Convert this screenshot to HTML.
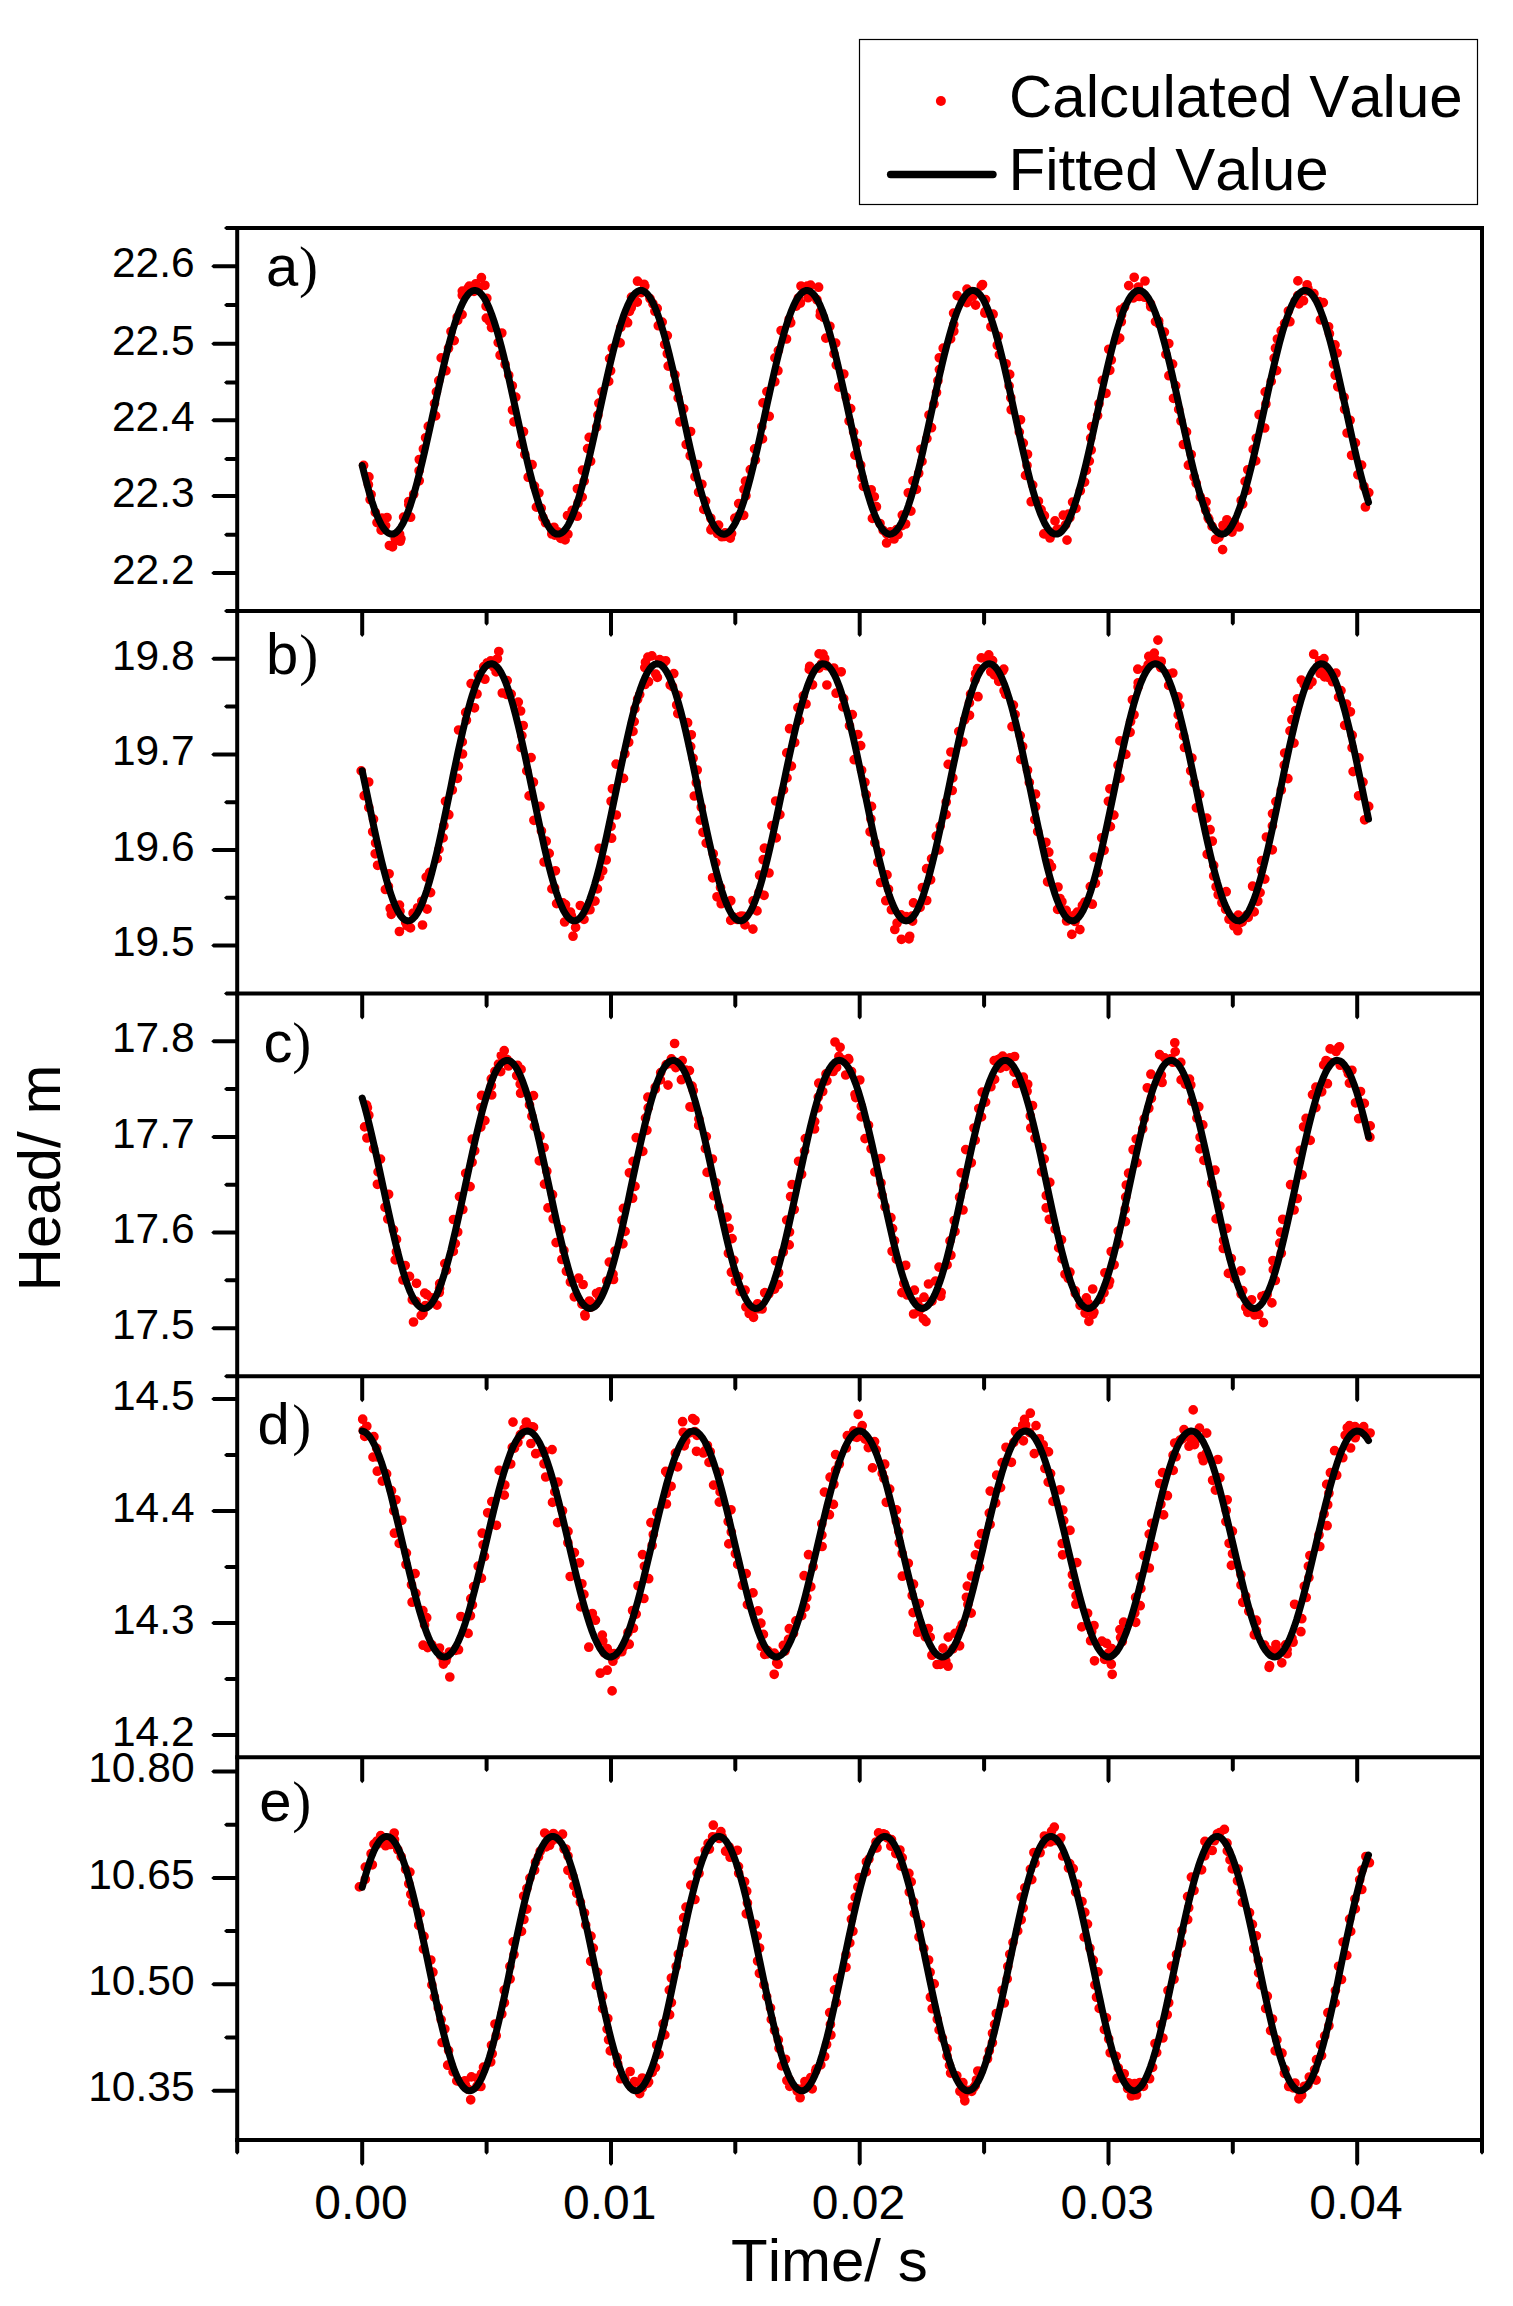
<!DOCTYPE html>
<html lang="en"><head><meta charset="utf-8"><title>Head vs Time - Calculated and Fitted Values</title>
<style>
html,body{margin:0;padding:0;background:#fff;}
body{width:1513px;height:2306px;overflow:hidden;}
svg{display:block;}
text{font-family:"Liberation Sans",Arial,Helvetica,sans-serif;fill:#000;font-kerning:none;}
.yt{font-size:42.5px;text-anchor:end;}
.xt{font-size:48px;text-anchor:middle;}
.ttl{font-size:60px;}
.pl{font-size:58px;}
.pp{font-size:57px;}
.ser{font-family:"Liberation Serif","Times New Roman",serif;}
.ax{stroke:#000;stroke-width:4;fill:none;stroke-linecap:butt;}
.tk{fill:#000;stroke:none;}
.dots{stroke:#f00;stroke-width:9.7;stroke-linecap:round;fill:none;}
.fit{stroke:#000;stroke-width:7;stroke-linecap:round;stroke-linejoin:round;fill:none;}
</style></head><body>
<svg width="1513" height="2306" viewBox="0 0 1513 2306">
<rect x="0" y="0" width="1513" height="2306" fill="#fff"/>
<path class="dots" d="M363.6 465.4h0M368.9 476.9h0M368.4 484.7h0M371.1 494.5h0M370.1 499.6h0M375.3 512.4h0M377.0 522.6h0M381.9 518.0h0M381.1 530.1h0M385.6 525.6h0M387.0 517.5h0M389.4 545.5h0M392.5 546.9h0M395.2 538.6h0M400.2 541.2h0M400.9 538.8h0M399.6 534.2h0M403.6 517.1h0M410.6 517.2h0M408.8 504.6h0M408.8 501.5h0M413.7 494.3h0M419.2 480.8h0M419.1 470.8h0M419.3 459.5h0M423.4 449.0h0M425.6 437.8h0M428.3 426.4h0M435.6 415.9h0M434.5 403.5h0M436.4 391.9h0M438.8 380.7h0M445.9 370.7h0M441.2 357.9h0M448.5 348.2h0M454.2 340.6h0M451.0 331.5h0M457.7 320.4h0M457.2 317.3h0M462.1 314.6h0M462.3 291.1h0M462.3 295.3h0M469.3 286.1h0M468.2 288.0h0M474.0 291.3h0M475.8 283.8h0M478.1 289.8h0M481.4 277.7h0M484.9 285.3h0M486.8 298.3h0M486.1 306.3h0M486.3 318.1h0M489.4 321.0h0M491.5 327.6h0M501.8 333.0h0M498.2 342.6h0M500.1 355.2h0M505.1 364.5h0M508.7 375.3h0M512.3 385.8h0M515.8 397.1h0M512.5 410.0h0M514.0 421.8h0M523.5 431.7h0M520.8 444.2h0M524.8 454.5h0M532.1 464.7h0M528.2 477.2h0M534.5 486.1h0M538.9 493.0h0M536.4 507.1h0M541.2 508.3h0M542.9 517.5h0M545.5 522.7h0M551.8 534.0h0M551.8 530.1h0M554.0 527.3h0M554.7 535.1h0M558.0 531.9h0M560.7 538.4h0M565.1 539.9h0M567.9 534.3h0M572.2 510.4h0M567.5 515.5h0M577.3 516.2h0M578.0 503.0h0M582.2 497.1h0M577.4 488.8h0M584.2 481.1h0M582.5 470.2h0M590.6 461.2h0M587.6 448.6h0M589.2 437.4h0M596.7 427.0h0M597.9 415.2h0M598.9 403.2h0M602.0 391.8h0M608.7 381.4h0M610.6 370.8h0M609.6 358.6h0M612.3 348.3h0M620.1 342.9h0M620.7 327.4h0M625.5 320.4h0M627.6 322.7h0M629.5 311.3h0M631.2 307.8h0M634.0 297.1h0M631.5 297.1h0M637.3 302.1h0M637.5 281.2h0M641.4 292.6h0M644.8 286.0h0M644.1 284.3h0M650.0 298.6h0M654.9 311.2h0M652.9 303.7h0M657.2 308.4h0M662.2 322.1h0M658.3 325.7h0M667.3 335.6h0M664.7 344.5h0M667.3 353.7h0M668.2 366.1h0M674.9 374.8h0M674.0 386.9h0M678.2 397.9h0M683.7 408.8h0M679.9 421.8h0M690.6 431.5h0M686.2 444.5h0M690.2 455.7h0M697.5 464.5h0M695.0 476.7h0M701.9 484.3h0M698.6 492.2h0M705.6 501.1h0M703.8 509.4h0M710.8 518.3h0M710.9 529.8h0M712.5 527.2h0M718.6 525.1h0M717.5 533.5h0M721.8 536.7h0M724.9 536.3h0M725.1 532.9h0M730.3 538.1h0M731.6 533.6h0M734.8 518.2h0M738.3 516.3h0M743.7 515.3h0M738.7 503.6h0M745.9 495.8h0M744.0 489.4h0M745.5 481.2h0M750.3 469.7h0M755.4 460.0h0M754.6 448.9h0M762.5 438.9h0M761.8 426.8h0M769.2 416.3h0M763.0 402.9h0M766.9 391.6h0M774.8 381.7h0M777.9 370.7h0M774.9 357.9h0M778.4 350.6h0M786.5 339.0h0M781.1 330.5h0M790.7 322.8h0M789.2 319.3h0M796.2 306.1h0M798.0 303.6h0M800.4 303.1h0M798.4 298.0h0M801.0 286.0h0M805.9 291.2h0M807.2 286.1h0M808.1 297.7h0M810.6 285.2h0M816.9 299.7h0M818.6 287.2h0M820.5 311.8h0M820.2 315.4h0M823.4 317.2h0M829.9 326.3h0M825.8 338.1h0M835.7 343.1h0M834.0 353.9h0M836.3 365.1h0M843.8 374.0h0M838.8 387.1h0M846.3 397.4h0M850.7 408.6h0M849.1 421.0h0M853.6 432.1h0M857.3 443.4h0M854.9 455.1h0M860.7 465.2h0M862.0 477.8h0M863.4 486.3h0M871.2 489.8h0M874.3 496.8h0M876.4 506.7h0M872.4 518.4h0M880.0 523.5h0M883.2 530.4h0M886.1 532.6h0M886.7 533.9h0M886.6 543.0h0M890.4 531.8h0M894.1 539.0h0M898.1 534.5h0M896.7 529.5h0M902.1 525.6h0M905.6 524.0h0M902.3 515.1h0M910.9 511.1h0M908.3 492.8h0M916.4 489.4h0M913.0 480.9h0M918.7 473.2h0M922.0 461.4h0M920.9 449.3h0M926.9 438.6h0M931.5 427.7h0M929.0 415.0h0M934.0 404.0h0M936.5 392.5h0M937.9 380.7h0M939.4 369.6h0M939.3 357.8h0M943.2 348.2h0M950.6 338.9h0M953.8 331.2h0M953.8 324.6h0M953.6 313.1h0M962.4 300.2h0M957.2 295.6h0M966.9 302.6h0M969.0 298.1h0M967.0 289.1h0M972.4 291.5h0M973.2 296.0h0M975.6 305.1h0M981.3 285.9h0M982.5 284.5h0M985.6 299.6h0M985.2 311.7h0M984.8 313.1h0M993.1 314.2h0M990.9 326.8h0M998.2 336.3h0M997.3 345.2h0M999.4 354.8h0M1006.1 363.8h0M1009.7 374.4h0M1009.1 386.0h0M1010.8 397.7h0M1011.2 409.7h0M1020.5 419.8h0M1019.3 432.1h0M1023.3 443.1h0M1027.5 454.3h0M1027.0 465.5h0M1025.5 475.4h0M1032.7 485.1h0M1031.2 501.7h0M1038.4 501.3h0M1041.1 509.6h0M1043.9 515.2h0M1044.4 515.7h0M1043.8 533.9h0M1050.0 538.0h0M1050.8 533.3h0M1055.0 520.9h0M1056.9 529.8h0M1058.6 529.4h0M1063.3 515.2h0M1067.0 540.1h0M1065.5 524.9h0M1069.9 517.6h0M1068.5 514.2h0M1076.0 508.3h0M1072.6 502.1h0M1080.3 490.8h0M1084.6 482.1h0M1086.4 470.3h0M1089.3 461.1h0M1091.2 450.0h0M1090.7 438.2h0M1091.7 426.5h0M1097.6 415.6h0M1099.0 403.8h0M1106.0 393.3h0M1102.3 380.4h0M1109.8 370.3h0M1111.3 360.0h0M1108.8 349.3h0M1117.2 340.0h0M1119.7 338.1h0M1121.3 321.7h0M1121.5 315.1h0M1120.5 309.9h0M1124.5 307.1h0M1133.2 298.0h0M1128.7 285.6h0M1134.2 277.3h0M1138.3 287.0h0M1139.3 296.5h0M1141.5 295.1h0M1145.0 281.0h0M1144.6 297.2h0M1150.5 303.6h0M1150.7 306.8h0M1155.5 321.6h0M1158.7 321.0h0M1158.6 323.6h0M1164.4 332.1h0M1168.8 343.5h0M1165.9 354.4h0M1172.6 364.1h0M1168.9 375.7h0M1175.7 385.7h0M1173.5 398.3h0M1178.7 409.4h0M1181.0 421.0h0M1186.5 431.9h0M1183.4 444.5h0M1191.2 454.5h0M1188.4 465.2h0M1194.1 477.0h0M1196.2 483.3h0M1200.3 497.0h0M1206.1 501.9h0M1205.7 510.2h0M1208.8 519.1h0M1208.2 517.9h0M1212.1 526.4h0M1215.6 539.3h0M1219.0 537.3h0M1219.4 533.2h0M1222.6 549.6h0M1223.0 525.3h0M1226.9 519.8h0M1227.2 526.0h0M1232.0 532.1h0M1239.1 527.0h0M1234.4 522.2h0M1242.7 504.1h0M1241.2 500.4h0M1247.4 490.3h0M1245.1 481.4h0M1247.8 469.8h0M1255.7 460.9h0M1253.2 449.4h0M1256.3 438.3h0M1264.7 428.0h0M1259.1 414.7h0M1265.9 404.0h0M1265.2 391.9h0M1271.2 381.4h0M1276.6 370.6h0M1274.2 358.2h0M1275.5 348.2h0M1277.4 339.0h0M1281.2 330.7h0M1284.6 323.4h0M1289.9 321.7h0M1288.4 311.0h0M1295.2 301.0h0M1299.0 303.9h0M1297.8 295.7h0M1297.9 280.9h0M1303.5 300.7h0M1306.0 290.8h0M1307.1 284.8h0M1307.9 288.4h0M1313.9 293.7h0M1319.1 301.7h0M1320.2 304.0h0M1323.3 302.6h0M1320.4 319.8h0M1328.6 326.8h0M1329.4 333.8h0M1335.0 344.9h0M1337.1 353.0h0M1333.5 364.0h0M1335.2 375.2h0M1337.8 386.8h0M1344.1 397.3h0M1344.6 409.3h0M1350.1 420.3h0M1347.1 433.0h0M1355.4 442.9h0M1351.6 455.3h0M1361.6 465.1h0M1357.9 474.8h0M1364.0 486.5h0M1368.8 492.6h0M1365.4 507.0h0"/>
<polyline class="fit" points="362.2,465.5 364.6,475.2 367.0,484.4 369.4,493.0 371.8,501.0 374.2,508.2 376.6,514.6 379.0,520.2 381.4,524.9 383.8,528.6 386.2,531.5 388.6,533.3 391.0,534.1 393.3,534.0 395.7,532.8 398.1,530.7 400.5,527.6 402.9,523.5 405.3,518.5 407.7,512.7 410.1,506.0 412.5,498.5 414.9,490.4 417.3,481.6 419.7,472.2 422.1,462.4 424.5,452.1 426.9,441.5 429.3,430.7 431.7,419.7 434.1,408.7 436.5,397.6 438.9,386.7 441.3,376.1 443.7,365.7 446.1,355.7 448.5,346.1 450.9,337.1 453.2,328.7 455.6,321.1 458.0,314.1 460.4,308.0 462.8,302.7 465.2,298.3 467.6,294.9 470.0,292.4 472.4,290.9 474.8,290.4 477.2,290.9 479.6,292.4 482.0,294.9 484.4,298.3 486.8,302.7 489.2,308.0 491.6,314.2 494.0,321.1 496.4,328.8 498.8,337.2 501.2,346.2 503.6,355.7 506.0,365.7 508.4,376.1 510.7,386.8 513.1,397.7 515.5,408.7 517.9,419.8 520.3,430.8 522.7,441.6 525.1,452.2 527.5,462.5 529.9,472.3 532.3,481.7 534.7,490.5 537.1,498.6 539.5,506.1 541.9,512.7 544.3,518.6 546.7,523.5 549.1,527.6 551.5,530.7 553.9,532.8 556.3,534.0 558.7,534.1 561.1,533.3 563.5,531.4 565.9,528.6 568.3,524.8 570.6,520.1 573.0,514.5 575.4,508.1 577.8,500.9 580.2,492.9 582.6,484.3 585.0,475.1 587.4,465.4 589.8,455.3 592.2,444.8 594.6,434.0 597.0,423.1 599.4,412.0 601.8,401.0 604.2,390.0 606.6,379.3 609.0,368.8 611.4,358.7 613.8,349.0 616.2,339.8 618.6,331.2 621.0,323.3 623.4,316.1 625.8,309.8 628.2,304.2 630.5,299.5 632.9,295.8 635.3,293.0 637.7,291.2 640.1,290.4 642.5,290.6 644.9,291.8 647.3,294.0 649.7,297.2 652.1,301.3 654.5,306.3 656.9,312.2 659.3,318.9 661.7,326.4 664.1,334.6 666.5,343.4 668.9,352.8 671.3,362.7 673.7,372.9 676.1,383.5 678.5,394.4 680.9,405.4 683.3,416.4 685.7,427.4 688.0,438.3 690.4,449.0 692.8,459.4 695.2,469.4 697.6,478.9 700.0,487.9 702.4,496.2 704.8,503.9 707.2,510.8 709.6,516.9 712.0,522.1 714.4,526.5 716.8,529.9 719.2,532.3 721.6,533.7 724.0,534.2 726.4,533.7 728.8,532.1 731.2,529.6 733.6,526.1 736.0,521.7 738.4,516.3 740.8,510.2 743.2,503.2 745.6,495.4 747.9,487.0 750.3,478.0 752.7,468.4 755.1,458.4 757.5,448.0 759.9,437.3 762.3,426.4 764.7,415.4 767.1,404.3 769.5,393.4 771.9,382.5 774.3,371.9 776.7,361.7 779.1,351.9 781.5,342.5 783.9,333.8 786.3,325.6 788.7,318.2 791.1,311.6 793.5,305.8 795.9,300.9 798.3,296.9 800.7,293.8 803.1,291.7 805.5,290.6 807.8,290.5 810.2,291.4 812.6,293.3 815.0,296.1 817.4,300.0 819.8,304.7 822.2,310.3 824.6,316.8 827.0,324.0 829.4,332.0 831.8,340.6 834.2,349.9 836.6,359.6 839.0,369.8 841.4,380.3 843.8,391.1 846.2,402.0 848.6,413.1 851.0,424.1 853.4,435.0 855.8,445.8 858.2,456.3 860.6,466.4 863.0,476.0 865.3,485.2 867.7,493.7 870.1,501.6 872.5,508.8 874.9,515.1 877.3,520.6 879.7,525.2 882.1,528.9 884.5,531.7 886.9,533.4 889.3,534.2 891.7,533.9 894.1,532.7 896.5,530.4 898.9,527.2 901.3,523.1 903.7,518.0 906.1,512.1 908.5,505.4 910.9,497.9 913.3,489.7 915.7,480.8 918.1,471.4 920.5,461.5 922.9,451.2 925.2,440.6 927.6,429.7 930.0,418.7 932.4,407.7 934.8,396.7 937.2,385.8 939.6,375.1 942.0,364.8 944.4,354.8 946.8,345.3 949.2,336.4 951.6,328.0 954.0,320.4 956.4,313.5 958.8,307.5 961.2,302.3 963.6,298.0 966.0,294.6 968.4,292.2 970.8,290.8 973.2,290.4 975.6,291.0 978.0,292.6 980.4,295.2 982.8,298.7 985.1,303.2 987.5,308.5 989.9,314.7 992.3,321.8 994.7,329.5 997.1,338.0 999.5,347.0 1001.9,356.6 1004.3,366.6 1006.7,377.1 1009.1,387.8 1011.5,398.7 1013.9,409.7 1016.3,420.7 1018.7,431.7 1021.1,442.5 1023.5,453.1 1025.9,463.3 1028.3,473.1 1030.7,482.5 1033.1,491.2 1035.5,499.3 1037.9,506.7 1040.3,513.3 1042.7,519.0 1045.0,523.9 1047.4,527.9 1049.8,530.9 1052.2,533.0 1054.6,534.0 1057.0,534.1 1059.4,533.2 1061.8,531.2 1064.2,528.3 1066.6,524.5 1069.0,519.7 1071.4,514.0 1073.8,507.5 1076.2,500.2 1078.6,492.2 1081.0,483.6 1083.4,474.3 1085.8,464.6 1088.2,454.4 1090.6,443.8 1093.0,433.1 1095.4,422.1 1097.8,411.1 1100.2,400.0 1102.5,389.1 1104.9,378.4 1107.3,367.9 1109.7,357.8 1112.1,348.2 1114.5,339.0 1116.9,330.5 1119.3,322.7 1121.7,315.6 1124.1,309.2 1126.5,303.8 1128.9,299.2 1131.3,295.5 1133.7,292.8 1136.1,291.1 1138.5,290.4 1140.9,290.7 1143.3,292.0 1145.7,294.3 1148.1,297.5 1150.5,301.7 1152.9,306.8 1155.3,312.8 1157.7,319.5 1160.1,327.1 1162.4,335.3 1164.8,344.2 1167.2,353.6 1169.6,363.5 1172.0,373.9 1174.4,384.5 1176.8,395.3 1179.2,406.3 1181.6,417.4 1184.0,428.4 1186.4,439.3 1188.8,449.9 1191.2,460.3 1193.6,470.2 1196.0,479.7 1198.4,488.6 1200.8,496.9 1203.2,504.5 1205.6,511.3 1208.0,517.4 1210.4,522.5 1212.8,526.8 1215.2,530.1 1217.6,532.5 1220.0,533.8 1222.3,534.2 1224.7,533.6 1227.1,531.9 1229.5,529.3 1231.9,525.7 1234.3,521.2 1236.7,515.8 1239.1,509.6 1241.5,502.5 1243.9,494.7 1246.3,486.3 1248.7,477.2 1251.1,467.6 1253.5,457.5 1255.9,447.1 1258.3,436.4 1260.7,425.4 1263.1,414.4 1265.5,403.4 1267.9,392.4 1270.3,381.6 1272.7,371.0 1275.1,360.8 1277.5,351.0 1279.8,341.7 1282.2,333.0 1284.6,325.0 1287.0,317.6 1289.4,311.1 1291.8,305.3 1294.2,300.5 1296.6,296.5 1299.0,293.6 1301.4,291.6 1303.8,290.5 1306.2,290.5 1308.6,291.5 1311.0,293.5 1313.4,296.4 1315.8,300.3 1318.2,305.1 1320.6,310.9 1323.0,317.4 1325.4,324.7 1327.8,332.7 1330.2,341.4 1332.6,350.7 1335.0,360.5 1337.4,370.7 1339.7,381.2 1342.1,392.0 1344.5,403.0 1346.9,414.0 1349.3,425.1 1351.7,436.0 1354.1,446.7 1356.5,457.2 1358.9,467.2 1361.3,476.9 1363.7,486.0 1366.1,494.4 1368.5,502.3"/>
<path class="dots" d="M361.2 770.9h0M368.7 782.0h0M364.2 795.7h0M368.8 807.5h0M373.5 819.2h0M372.7 831.8h0M375.6 843.0h0M375.2 853.8h0M377.6 865.3h0M389.1 873.8h0M388.4 886.4h0M385.4 889.5h0M390.2 908.5h0M391.3 914.3h0M399.5 905.1h0M399.4 931.5h0M400.0 911.2h0M405.7 922.5h0M407.0 925.7h0M410.5 927.9h0M409.9 927.6h0M417.6 907.8h0M413.1 913.2h0M422.5 925.0h0M427.1 909.1h0M421.8 901.3h0M430.6 892.6h0M426.2 877.1h0M429.7 872.4h0M437.3 858.6h0M439.0 849.4h0M443.1 837.9h0M443.9 825.8h0M448.8 814.7h0M445.5 801.3h0M452.3 790.0h0M457.4 778.3h0M458.4 766.0h0M462.5 754.0h0M462.3 741.9h0M458.6 730.0h0M466.4 720.3h0M465.7 712.4h0M474.5 707.8h0M477.0 694.0h0M471.1 683.6h0M478.3 674.8h0M483.8 666.6h0M487.3 662.8h0M484.9 679.2h0M490.8 664.6h0M490.8 660.8h0M493.5 666.9h0M498.8 651.5h0M497.4 658.8h0M496.1 671.9h0M507.2 680.6h0M502.3 693.0h0M506.9 694.5h0M511.2 694.1h0M518.3 702.1h0M520.6 711.0h0M523.2 725.5h0M521.9 735.6h0M521.0 747.5h0M531.1 757.6h0M526.8 770.9h0M533.4 782.2h0M529.1 795.9h0M540.0 806.4h0M533.9 820.3h0M541.4 831.0h0M546.2 841.2h0M549.2 853.4h0M544.1 862.0h0M555.4 870.8h0M554.6 887.9h0M551.9 888.9h0M556.6 903.6h0M565.5 904.7h0M563.0 902.9h0M570.5 912.2h0M564.6 922.0h0M571.4 915.6h0M573.0 936.2h0M575.6 927.4h0M580.3 905.5h0M584.0 919.4h0M586.6 910.1h0M590.4 902.2h0M590.0 909.7h0M595.0 901.1h0M597.4 888.9h0M599.7 876.6h0M602.7 870.8h0M606.2 860.0h0M599.2 848.4h0M611.6 838.2h0M611.1 826.2h0M616.3 815.0h0M611.1 801.3h0M612.4 788.8h0M623.5 778.4h0M616.1 764.1h0M624.9 753.8h0M628.7 742.3h0M633.0 731.4h0M634.2 721.6h0M634.9 708.9h0M637.6 699.3h0M639.7 694.6h0M645.0 684.5h0M648.5 681.7h0M645.5 662.3h0M644.8 667.6h0M647.9 657.1h0M651.9 655.9h0M655.8 674.2h0M657.4 677.4h0M659.7 659.6h0M665.7 660.8h0M664.1 662.3h0M673.8 673.6h0M670.2 685.0h0M672.5 686.5h0M678.0 695.3h0M676.7 705.0h0M677.8 713.6h0M687.6 722.7h0M691.3 734.8h0M690.7 746.6h0M693.1 758.3h0M697.2 770.0h0M696.3 782.8h0M694.3 796.0h0M701.3 807.3h0M700.3 820.1h0M703.0 832.3h0M706.2 843.1h0M713.2 853.8h0M715.8 862.7h0M712.6 877.8h0M720.5 887.5h0M717.0 896.8h0M721.2 903.7h0M730.8 900.7h0M728.3 903.3h0M733.4 917.0h0M730.7 920.3h0M737.3 919.5h0M739.3 916.9h0M741.2 916.0h0M745.0 924.9h0M743.7 916.4h0M752.9 929.1h0M757.0 910.9h0M753.1 900.9h0M759.0 892.5h0M764.1 895.3h0M759.6 875.2h0M769.0 873.0h0M763.2 859.7h0M764.4 848.2h0M776.2 837.9h0M771.9 825.6h0M779.9 814.6h0M775.7 801.0h0M783.5 789.9h0M787.0 777.9h0M791.4 766.1h0M786.8 752.9h0M794.7 742.5h0M789.6 728.7h0M799.4 720.3h0M797.9 707.6h0M806.0 704.0h0M803.3 695.9h0M812.5 684.8h0M809.3 669.4h0M809.7 666.4h0M819.1 668.1h0M821.5 663.9h0M819.1 653.9h0M823.0 654.1h0M826.6 665.7h0M824.7 658.5h0M826.9 685.0h0M834.9 672.7h0M833.8 668.0h0M841.2 671.8h0M836.1 693.2h0M843.7 698.7h0M842.8 706.8h0M852.3 714.6h0M849.5 725.7h0M857.8 734.5h0M860.7 745.6h0M854.2 759.7h0M861.6 770.3h0M864.9 782.3h0M866.2 794.7h0M871.5 806.4h0M870.9 819.0h0M870.1 831.8h0M874.8 842.7h0M880.4 852.5h0M877.8 862.2h0M887.0 874.9h0M880.6 882.5h0M888.5 889.3h0M885.8 900.7h0M891.4 909.7h0M894.8 929.5h0M901.0 914.9h0M897.1 923.0h0M901.4 939.3h0M906.2 916.7h0M909.7 936.3h0M909.0 938.9h0M912.6 921.1h0M912.0 916.1h0M913.5 902.9h0M920.1 907.4h0M926.7 900.5h0M922.4 887.5h0M930.6 879.8h0M926.6 868.7h0M931.6 858.8h0M939.0 849.9h0M936.3 836.2h0M940.2 826.1h0M946.1 814.6h0M946.2 802.0h0M952.2 790.5h0M952.8 777.9h0M948.2 764.4h0M950.9 752.0h0M962.9 742.0h0M958.8 731.5h0M964.7 719.8h0M969.5 715.3h0M969.4 702.9h0M970.6 694.1h0M978.0 696.7h0M975.0 680.0h0M975.7 673.5h0M977.5 668.7h0M981.3 657.9h0M988.8 654.9h0M988.4 662.1h0M990.8 671.8h0M992.6 660.6h0M994.2 674.8h0M1002.8 670.7h0M1003.8 669.1h0M998.7 681.3h0M1004.1 690.8h0M1005.6 694.2h0M1013.4 705.1h0M1015.1 714.4h0M1012.0 726.6h0M1020.2 735.6h0M1022.6 746.5h0M1020.8 759.3h0M1027.5 770.3h0M1029.3 782.5h0M1035.5 794.0h0M1035.6 806.7h0M1034.8 819.5h0M1037.7 831.5h0M1045.9 842.3h0M1048.8 852.2h0M1049.2 863.3h0M1051.5 866.8h0M1047.6 881.8h0M1058.0 887.0h0M1060.0 898.5h0M1061.9 901.7h0M1057.6 909.4h0M1066.2 910.4h0M1068.3 917.4h0M1066.6 921.0h0M1071.8 934.4h0M1075.1 921.5h0M1074.0 915.4h0M1079.9 929.6h0M1077.3 912.2h0M1084.9 902.0h0M1082.4 905.4h0M1092.3 904.2h0M1090.3 886.6h0M1095.4 883.2h0M1098.2 872.5h0M1094.2 857.1h0M1104.1 850.3h0M1101.7 837.8h0M1110.4 826.6h0M1113.9 815.1h0M1108.4 801.3h0M1109.9 788.8h0M1120.0 778.2h0M1118.0 765.2h0M1125.8 754.4h0M1119.9 740.9h0M1130.1 732.3h0M1130.6 721.6h0M1134.0 714.8h0M1132.4 699.8h0M1138.1 687.0h0M1138.2 682.8h0M1137.8 669.2h0M1145.5 669.4h0M1148.2 664.6h0M1148.8 656.4h0M1154.3 653.1h0M1154.9 659.0h0M1157.9 640.1h0M1161.1 661.9h0M1161.2 661.3h0M1160.7 667.6h0M1167.7 674.0h0M1172.8 673.0h0M1168.7 685.4h0M1178.0 696.8h0M1179.7 705.1h0M1178.2 714.9h0M1179.7 725.7h0M1183.6 735.9h0M1184.5 747.5h0M1191.9 758.0h0M1190.7 770.8h0M1194.1 782.8h0M1199.7 794.4h0M1196.4 807.8h0M1206.7 818.1h0M1210.1 829.7h0M1212.3 841.2h0M1207.2 854.3h0M1213.7 865.4h0M1213.7 876.0h0M1216.1 886.8h0M1218.2 894.7h0M1226.2 891.7h0M1221.9 902.7h0M1225.6 909.2h0M1229.0 919.2h0M1233.9 926.0h0M1237.8 930.7h0M1238.3 915.2h0M1240.9 922.5h0M1242.3 921.7h0M1246.6 915.2h0M1248.2 917.4h0M1254.2 911.9h0M1257.8 901.3h0M1260.1 892.6h0M1252.6 886.2h0M1264.8 879.1h0M1261.3 870.5h0M1261.7 860.7h0M1272.3 849.8h0M1266.4 837.0h0M1272.4 825.9h0M1272.5 813.6h0M1275.9 801.6h0M1281.3 790.0h0M1287.9 778.6h0M1284.2 765.2h0M1284.7 753.0h0M1294.0 743.1h0M1290.0 730.9h0M1291.9 719.7h0M1295.6 710.5h0M1297.5 698.8h0M1304.1 684.4h0M1301.3 680.1h0M1308.8 685.0h0M1312.0 681.8h0M1313.7 654.2h0M1319.5 660.9h0M1320.2 667.1h0M1320.1 673.5h0M1324.0 658.6h0M1324.6 676.9h0M1324.2 671.9h0M1328.7 677.5h0M1336.0 673.2h0M1332.5 681.7h0M1341.0 690.6h0M1338.6 697.1h0M1346.5 704.1h0M1350.4 711.8h0M1344.7 725.3h0M1352.2 735.2h0M1352.1 747.7h0M1359.0 757.9h0M1353.1 771.6h0M1363.0 782.1h0M1358.6 795.8h0M1368.7 806.4h0M1364.6 819.8h0"/>
<polyline class="fit" points="362.2,770.7 364.6,782.3 367.0,793.9 369.4,805.5 371.8,817.1 374.2,828.4 376.6,839.4 379.0,850.1 381.4,860.2 383.8,869.8 386.2,878.8 388.6,887.1 391.0,894.5 393.3,901.2 395.7,906.9 398.1,911.7 400.5,915.6 402.9,918.4 405.3,920.2 407.7,920.9 410.1,920.6 412.5,919.2 414.9,916.7 417.3,913.3 419.7,908.9 422.1,903.5 424.5,897.1 426.9,890.0 429.3,882.0 431.7,873.3 434.1,863.9 436.5,854.0 438.9,843.5 441.3,832.6 443.7,821.4 446.1,809.9 448.5,798.3 450.9,786.6 453.2,775.0 455.6,763.6 458.0,752.3 460.4,741.4 462.8,731.0 465.2,721.0 467.6,711.6 470.0,702.8 472.4,694.8 474.8,687.6 477.2,681.3 479.6,675.9 482.0,671.4 484.4,667.9 486.8,665.5 489.2,664.1 491.6,663.7 494.0,664.4 496.4,666.2 498.8,668.9 501.2,672.7 503.6,677.5 506.0,683.2 508.4,689.9 510.7,697.3 513.1,705.5 515.5,714.5 517.9,724.1 520.3,734.2 522.7,744.9 525.1,755.9 527.5,767.2 529.9,778.7 532.3,790.4 534.7,802.0 537.1,813.6 539.5,825.0 541.9,836.1 544.3,846.9 546.7,857.2 549.1,867.0 551.5,876.1 553.9,884.6 556.3,892.4 558.7,899.3 561.1,905.3 563.5,910.4 565.9,914.5 568.3,917.6 570.6,919.7 573.0,920.8 575.4,920.8 577.8,919.7 580.2,917.6 582.6,914.5 585.0,910.3 587.4,905.2 589.8,899.2 592.2,892.2 594.6,884.5 597.0,876.0 599.4,866.8 601.8,857.0 604.2,846.7 606.6,835.9 609.0,824.8 611.4,813.4 613.8,801.8 616.2,790.2 618.6,778.6 621.0,767.0 623.4,755.7 625.8,744.7 628.2,734.1 630.5,723.9 632.9,714.4 635.3,705.4 637.7,697.2 640.1,689.8 642.5,683.1 644.9,677.4 647.3,672.7 649.7,668.9 652.1,666.1 654.5,664.4 656.9,663.7 659.3,664.1 661.7,665.5 664.1,668.0 666.5,671.5 668.9,676.0 671.3,681.4 673.7,687.7 676.1,695.0 678.5,703.0 680.9,711.7 683.3,721.1 685.7,731.1 688.0,741.6 690.4,752.5 692.8,763.7 695.2,775.2 697.6,786.8 700.0,798.5 702.4,810.1 704.8,821.5 707.2,832.7 709.6,843.6 712.0,854.1 714.4,864.1 716.8,873.4 719.2,882.1 721.6,890.1 724.0,897.2 726.4,903.5 728.8,908.9 731.2,913.4 733.6,916.8 736.0,919.2 738.4,920.6 740.8,920.9 743.2,920.1 745.6,918.3 747.9,915.5 750.3,911.7 752.7,906.9 755.1,901.1 757.5,894.4 759.9,886.9 762.3,878.7 764.7,869.7 767.1,860.1 769.5,849.9 771.9,839.3 774.3,828.2 776.7,816.9 779.1,805.4 781.5,793.7 783.9,782.1 786.3,770.5 788.7,759.1 791.1,748.0 793.5,737.3 795.9,727.0 798.3,717.2 800.7,708.1 803.1,699.6 805.5,691.9 807.8,685.1 810.2,679.1 812.6,674.0 815.0,669.9 817.4,666.9 819.8,664.8 822.2,663.8 824.6,663.9 827.0,665.0 829.4,667.1 831.8,670.3 834.2,674.5 836.6,679.6 839.0,685.7 841.4,692.7 843.8,700.4 846.2,709.0 848.6,718.2 851.0,728.0 853.4,738.3 855.8,749.1 858.2,760.3 860.6,771.7 863.0,783.3 865.3,794.9 867.7,806.5 870.1,818.1 872.5,829.4 874.9,840.4 877.3,851.0 879.7,861.1 882.1,870.6 884.5,879.5 886.9,887.7 889.3,895.2 891.7,901.7 894.1,907.4 896.5,912.1 898.9,915.8 901.3,918.6 903.7,920.3 906.1,920.9 908.5,920.5 910.9,919.0 913.3,916.5 915.7,913.0 918.1,908.4 920.5,902.9 922.9,896.6 925.2,889.3 927.6,881.3 930.0,872.5 932.4,863.1 934.8,853.1 937.2,842.5 939.6,831.6 942.0,820.4 944.4,808.9 946.8,797.3 949.2,785.6 951.6,774.0 954.0,762.6 956.4,751.4 958.8,740.5 961.2,730.1 963.6,720.1 966.0,710.8 968.4,702.1 970.8,694.2 973.2,687.1 975.6,680.8 978.0,675.5 980.4,671.1 982.8,667.7 985.1,665.3 987.5,664.0 989.9,663.7 992.3,664.5 994.7,666.4 997.1,669.2 999.5,673.1 1001.9,678.0 1004.3,683.8 1006.7,690.5 1009.1,698.0 1011.5,706.3 1013.9,715.3 1016.3,724.9 1018.7,735.1 1021.1,745.8 1023.5,756.9 1025.9,768.2 1028.3,779.7 1030.7,791.4 1033.1,803.0 1035.5,814.6 1037.9,825.9 1040.3,837.0 1042.7,847.8 1045.0,858.1 1047.4,867.8 1049.8,876.9 1052.2,885.3 1054.6,893.0 1057.0,899.8 1059.4,905.8 1061.8,910.8 1064.2,914.8 1066.6,917.9 1069.0,919.9 1071.4,920.8 1073.8,920.7 1076.2,919.6 1078.6,917.4 1081.0,914.1 1083.4,909.9 1085.8,904.7 1088.2,898.6 1090.6,891.6 1093.0,883.8 1095.4,875.2 1097.8,866.0 1100.2,856.2 1102.5,845.8 1104.9,835.0 1107.3,823.8 1109.7,812.4 1112.1,800.8 1114.5,789.2 1116.9,777.6 1119.3,766.0 1121.7,754.8 1124.1,743.8 1126.5,733.2 1128.9,723.1 1131.3,713.6 1133.7,704.7 1136.1,696.5 1138.5,689.1 1140.9,682.6 1143.3,677.0 1145.7,672.3 1148.1,668.6 1150.5,665.9 1152.9,664.3 1155.3,663.7 1157.7,664.2 1160.1,665.7 1162.4,668.2 1164.8,671.8 1167.2,676.4 1169.6,681.9 1172.0,688.3 1174.4,695.6 1176.8,703.7 1179.2,712.5 1181.6,722.0 1184.0,732.0 1186.4,742.5 1188.8,753.5 1191.2,764.7 1193.6,776.2 1196.0,787.8 1198.4,799.5 1200.8,811.1 1203.2,822.5 1205.6,833.7 1208.0,844.6 1210.4,855.0 1212.8,864.9 1215.2,874.2 1217.6,882.8 1220.0,890.7 1222.3,897.8 1224.7,904.0 1227.1,909.4 1229.5,913.7 1231.9,917.0 1234.3,919.4 1236.7,920.6 1239.1,920.9 1241.5,920.0 1243.9,918.1 1246.3,915.2 1248.7,911.3 1251.1,906.4 1253.5,900.6 1255.9,893.8 1258.3,886.3 1260.7,877.9 1263.1,868.9 1265.5,859.2 1267.9,849.0 1270.3,838.3 1272.7,827.3 1275.1,815.9 1277.5,804.4 1279.8,792.7 1282.2,781.1 1284.6,769.5 1287.0,758.2 1289.4,747.1 1291.8,736.4 1294.2,726.1 1296.6,716.4 1299.0,707.3 1301.4,698.9 1303.8,691.3 1306.2,684.5 1308.6,678.6 1311.0,673.6 1313.4,669.6 1315.8,666.6 1318.2,664.7 1320.6,663.8 1323.0,663.9 1325.4,665.1 1327.8,667.4 1330.2,670.6 1332.6,674.9 1335.0,680.1 1337.4,686.3 1339.7,693.3 1342.1,701.2 1344.5,709.7 1346.9,719.0 1349.3,728.9 1351.7,739.3 1354.1,750.1 1356.5,761.3 1358.9,772.7 1361.3,784.3 1363.7,795.9 1366.1,807.6 1368.5,819.0"/>
<path class="dots" d="M366.6 1105.2h0M367.4 1107.7h0M368.8 1115.2h0M364.6 1126.9h0M366.9 1138.0h0M373.6 1148.8h0M380.5 1159.1h0M378.1 1171.9h0M377.4 1184.3h0M388.6 1194.3h0M385.0 1207.3h0M387.8 1219.0h0M393.5 1229.9h0M396.5 1239.4h0M396.4 1251.7h0M395.2 1259.9h0M405.2 1265.5h0M409.5 1276.4h0M403.0 1280.0h0M412.3 1299.8h0M416.5 1283.3h0M413.5 1322.0h0M416.1 1301.4h0M421.2 1315.4h0M423.0 1313.2h0M425.4 1305.5h0M424.7 1293.1h0M426.9 1294.7h0M431.5 1297.9h0M437.0 1305.1h0M439.6 1288.5h0M439.3 1292.5h0M439.7 1283.7h0M446.4 1270.2h0M444.8 1263.6h0M453.3 1251.4h0M455.3 1243.6h0M457.7 1232.0h0M453.5 1219.5h0M462.8 1209.5h0M459.5 1196.6h0M470.1 1186.6h0M465.7 1173.3h0M472.1 1162.3h0M474.7 1150.8h0M472.2 1139.2h0M480.8 1127.1h0M484.9 1120.6h0M480.9 1107.6h0M481.6 1095.4h0M491.7 1095.0h0M491.4 1085.8h0M494.9 1071.4h0M491.3 1078.9h0M500.7 1071.6h0M498.5 1064.1h0M501.3 1055.5h0M504.2 1050.7h0M507.1 1059.4h0M508.5 1066.0h0M509.4 1062.3h0M517.6 1065.4h0M516.7 1075.6h0M521.1 1069.4h0M520.2 1084.1h0M520.6 1093.2h0M533.5 1095.6h0M529.5 1104.9h0M531.9 1116.2h0M534.4 1126.3h0M540.0 1136.2h0M544.1 1147.5h0M539.3 1160.8h0M546.8 1171.2h0M544.5 1184.1h0M552.5 1194.7h0M548.0 1207.9h0M553.2 1218.7h0M561.0 1229.5h0M556.1 1242.6h0M563.9 1250.4h0M561.9 1259.5h0M566.4 1271.2h0M570.4 1282.0h0M578.6 1278.2h0M574.3 1296.8h0M583.1 1284.5h0M581.9 1304.1h0M584.8 1314.6h0M585.1 1316.0h0M589.4 1301.0h0M590.8 1307.1h0M595.3 1304.4h0M592.9 1304.3h0M599.6 1291.8h0M596.5 1293.3h0M599.2 1296.4h0M606.8 1281.0h0M613.5 1279.5h0M613.0 1274.2h0M609.3 1262.1h0M615.0 1251.0h0M622.9 1243.9h0M625.1 1231.4h0M622.0 1220.3h0M623.4 1208.4h0M632.6 1198.2h0M635.0 1186.4h0M629.4 1172.8h0M633.1 1161.4h0M642.8 1151.4h0M636.2 1137.7h0M646.9 1130.3h0M645.5 1118.1h0M648.2 1107.9h0M647.9 1097.2h0M655.4 1089.0h0M655.2 1087.4h0M660.4 1079.9h0M660.7 1072.6h0M666.2 1064.6h0M668.0 1085.1h0M671.6 1063.7h0M671.4 1058.9h0M674.6 1043.5h0M675.8 1067.6h0M682.2 1060.6h0M685.8 1070.1h0M681.4 1079.7h0M689.4 1070.6h0M692.1 1086.2h0M693.3 1090.6h0M690.0 1106.8h0M691.7 1107.2h0M698.9 1118.9h0M698.7 1125.4h0M706.3 1136.6h0M705.4 1148.5h0M712.4 1159.0h0M707.1 1172.4h0M716.0 1182.8h0M713.8 1195.7h0M718.8 1206.8h0M727.0 1217.1h0M729.1 1228.3h0M732.1 1238.6h0M728.4 1253.3h0M733.9 1260.4h0M731.4 1272.2h0M735.4 1281.2h0M738.6 1276.7h0M740.1 1291.5h0M745.1 1290.2h0M745.9 1307.0h0M749.2 1313.5h0M753.5 1317.3h0M755.1 1309.1h0M757.6 1303.8h0M757.4 1304.8h0M759.6 1308.6h0M762.1 1309.0h0M764.7 1292.7h0M768.9 1293.8h0M774.6 1289.1h0M778.3 1284.6h0M778.6 1272.7h0M775.5 1260.8h0M783.3 1252.0h0M789.2 1244.9h0M789.5 1232.0h0M786.7 1220.1h0M794.2 1209.5h0M790.6 1196.5h0M792.1 1184.5h0M801.6 1174.2h0M798.6 1161.3h0M804.6 1150.9h0M805.3 1138.6h0M814.5 1129.0h0M814.7 1121.6h0M818.0 1107.8h0M818.3 1097.1h0M822.7 1091.5h0M818.8 1083.2h0M826.0 1073.9h0M826.9 1080.9h0M833.1 1071.5h0M835.0 1042.0h0M836.6 1067.3h0M838.9 1056.4h0M840.1 1047.3h0M842.3 1059.5h0M848.8 1059.6h0M848.5 1058.7h0M845.7 1075.0h0M851.5 1071.5h0M859.8 1080.0h0M855.0 1094.5h0M855.7 1097.6h0M861.3 1106.3h0M861.2 1116.9h0M868.5 1125.3h0M865.0 1138.6h0M871.1 1148.8h0M880.6 1158.6h0M874.9 1172.0h0M881.0 1183.0h0M882.1 1195.1h0M885.0 1206.7h0M890.9 1217.7h0M892.6 1228.6h0M894.5 1240.8h0M892.1 1251.3h0M896.3 1259.1h0M905.7 1265.3h0M903.8 1283.5h0M901.9 1292.6h0M907.2 1295.0h0M914.4 1290.2h0M917.6 1302.1h0M913.6 1314.0h0M918.8 1311.6h0M921.2 1308.2h0M923.4 1318.9h0M924.0 1297.2h0M926.0 1321.6h0M932.0 1301.1h0M928.5 1284.0h0M940.7 1296.2h0M941.2 1292.6h0M935.6 1281.0h0M939.0 1267.1h0M947.1 1264.9h0M950.9 1255.2h0M950.0 1240.9h0M955.0 1231.5h0M954.2 1220.5h0M963.0 1210.0h0M959.6 1197.2h0M964.0 1185.8h0M961.2 1172.9h0M971.3 1162.8h0M965.7 1149.6h0M975.2 1140.2h0M974.0 1128.0h0M981.5 1116.9h0M978.8 1108.5h0M985.6 1102.1h0M982.2 1092.2h0M990.9 1086.7h0M994.6 1079.4h0M994.2 1060.6h0M1000.4 1068.1h0M998.2 1059.5h0M1000.1 1058.5h0M1002.7 1056.2h0M1005.6 1059.6h0M1006.2 1066.4h0M1010.0 1057.8h0M1014.6 1056.5h0M1014.0 1072.1h0M1023.3 1077.2h0M1016.6 1083.5h0M1027.7 1084.3h0M1027.1 1091.3h0M1032.5 1105.5h0M1030.3 1116.0h0M1030.8 1128.0h0M1035.0 1138.1h0M1041.8 1147.5h0M1044.2 1159.0h0M1041.6 1171.8h0M1049.8 1182.4h0M1046.3 1195.5h0M1046.2 1207.8h0M1049.3 1219.3h0M1055.1 1229.1h0M1061.5 1239.8h0M1058.7 1247.9h0M1062.0 1258.9h0M1065.0 1274.3h0M1069.9 1272.2h0M1068.2 1278.2h0M1075.3 1290.9h0M1075.3 1293.4h0M1080.1 1305.4h0M1085.1 1313.1h0M1086.3 1297.9h0M1088.2 1303.3h0M1088.9 1321.4h0M1092.7 1289.0h0M1093.9 1312.2h0M1093.0 1314.3h0M1100.6 1299.5h0M1104.0 1292.8h0M1108.7 1284.8h0M1109.6 1281.3h0M1104.9 1272.8h0M1114.1 1264.8h0M1111.2 1251.5h0M1118.8 1243.9h0M1118.2 1231.1h0M1125.4 1221.6h0M1125.2 1209.3h0M1125.7 1197.2h0M1126.3 1185.0h0M1128.6 1173.2h0M1137.0 1162.7h0M1133.1 1149.7h0M1136.2 1139.1h0M1142.7 1128.8h0M1144.2 1118.9h0M1148.8 1108.3h0M1151.4 1098.3h0M1147.3 1087.8h0M1150.9 1074.2h0M1162.1 1082.5h0M1160.3 1078.9h0M1159.6 1054.6h0M1161.4 1075.2h0M1164.7 1057.9h0M1171.0 1058.7h0M1172.8 1062.2h0M1175.2 1051.6h0M1174.8 1042.8h0M1180.8 1062.4h0M1181.1 1079.9h0M1185.3 1084.1h0M1189.5 1079.1h0M1190.8 1085.0h0M1191.8 1101.2h0M1198.8 1106.7h0M1196.9 1118.1h0M1202.8 1124.9h0M1200.1 1137.3h0M1199.9 1148.9h0M1203.9 1160.3h0M1215.0 1170.2h0M1211.6 1183.2h0M1216.9 1194.4h0M1219.9 1206.0h0M1216.1 1218.9h0M1226.9 1228.3h0M1223.6 1240.5h0M1223.3 1248.5h0M1231.3 1258.5h0M1228.4 1273.4h0M1234.6 1278.5h0M1240.9 1270.9h0M1242.7 1290.6h0M1241.1 1294.0h0M1245.8 1307.4h0M1251.6 1299.8h0M1247.8 1312.3h0M1253.4 1311.4h0M1254.7 1315.0h0M1258.8 1314.3h0M1261.9 1296.3h0M1263.4 1322.6h0M1264.1 1295.6h0M1271.9 1302.9h0M1267.1 1294.8h0M1275.3 1280.5h0M1273.3 1269.6h0M1272.9 1260.5h0M1281.3 1253.2h0M1279.8 1243.2h0M1280.7 1232.2h0M1282.7 1219.3h0M1294.1 1210.0h0M1297.2 1198.5h0M1290.6 1184.7h0M1302.1 1174.9h0M1298.3 1161.7h0M1300.3 1150.3h0M1310.2 1140.4h0M1303.6 1126.8h0M1306.1 1118.4h0M1315.9 1107.6h0M1312.5 1094.6h0M1321.7 1091.8h0M1315.9 1087.2h0M1327.4 1083.7h0M1323.7 1064.9h0M1326.0 1060.5h0M1330.1 1048.9h0M1330.2 1062.5h0M1336.1 1051.5h0M1338.7 1047.5h0M1339.5 1046.8h0M1340.2 1065.2h0M1347.2 1070.1h0M1351.9 1070.3h0M1348.3 1073.6h0M1349.4 1083.1h0M1360.5 1091.5h0M1355.5 1102.8h0M1364.3 1103.4h0M1358.7 1118.7h0M1370.2 1125.9h0M1369.9 1137.2h0"/>
<polyline class="fit" points="362.2,1098.0 364.6,1106.4 367.0,1115.4 369.4,1125.1 371.8,1135.2 374.2,1145.7 376.6,1156.5 379.0,1167.6 381.4,1178.8 383.8,1190.0 386.2,1201.2 388.6,1212.3 391.0,1223.1 393.3,1233.6 395.7,1243.8 398.1,1253.4 400.5,1262.4 402.9,1270.9 405.3,1278.6 407.7,1285.5 410.1,1291.6 412.5,1296.8 414.9,1301.1 417.3,1304.5 419.7,1306.8 422.1,1308.2 424.5,1308.5 426.9,1307.8 429.3,1306.1 431.7,1303.4 434.1,1299.7 436.5,1295.1 438.9,1289.6 441.3,1283.2 443.7,1275.9 446.1,1268.0 448.5,1259.3 450.9,1250.1 453.2,1240.3 455.6,1230.0 458.0,1219.4 460.4,1208.4 462.8,1197.3 465.2,1186.1 467.6,1174.9 470.0,1163.7 472.4,1152.7 474.8,1142.0 477.2,1131.6 479.6,1121.6 482.0,1112.2 484.4,1103.4 486.8,1095.2 489.2,1087.7 491.6,1081.1 494.0,1075.3 496.4,1070.4 498.8,1066.4 501.2,1063.4 503.6,1061.4 506.0,1060.4 508.4,1060.4 510.7,1061.5 513.1,1063.5 515.5,1066.6 517.9,1070.6 520.3,1075.5 522.7,1081.4 525.1,1088.1 527.5,1095.5 529.9,1103.7 532.3,1112.6 534.7,1122.1 537.1,1132.1 539.5,1142.5 541.9,1153.2 544.3,1164.2 546.7,1175.4 549.1,1186.6 551.5,1197.8 553.9,1209.0 556.3,1219.9 558.7,1230.5 561.1,1240.7 563.5,1250.5 565.9,1259.7 568.3,1268.4 570.6,1276.3 573.0,1283.5 575.4,1289.8 577.8,1295.3 580.2,1299.9 582.6,1303.5 585.0,1306.2 587.4,1307.9 589.8,1308.5 592.2,1308.1 594.6,1306.7 597.0,1304.3 599.4,1300.9 601.8,1296.6 604.2,1291.3 606.6,1285.2 609.0,1278.2 611.4,1270.5 613.8,1262.0 616.2,1253.0 618.6,1243.3 621.0,1233.2 623.4,1222.6 625.8,1211.8 628.2,1200.7 630.5,1189.5 632.9,1178.3 635.3,1167.1 637.7,1156.0 640.1,1145.2 642.5,1134.7 644.9,1124.6 647.3,1115.0 649.7,1106.0 652.1,1097.6 654.5,1089.9 656.9,1083.0 659.3,1077.0 661.7,1071.8 664.1,1067.5 666.5,1064.2 668.9,1061.9 671.3,1060.6 673.7,1060.3 676.1,1061.1 678.5,1062.8 680.9,1065.5 683.3,1069.3 685.7,1073.9 688.0,1079.5 690.4,1085.9 692.8,1093.2 695.2,1101.2 697.6,1109.9 700.0,1119.1 702.4,1129.0 704.8,1139.2 707.2,1149.9 709.6,1160.8 712.0,1172.0 714.4,1183.2 716.8,1194.4 719.2,1205.6 721.6,1216.6 724.0,1227.3 726.4,1237.7 728.8,1247.6 731.2,1257.0 733.6,1265.8 736.0,1274.0 738.4,1281.4 740.8,1288.0 743.2,1293.7 745.6,1298.6 747.9,1302.5 750.3,1305.5 752.7,1307.5 755.1,1308.4 757.5,1308.3 759.9,1307.3 762.3,1305.2 764.7,1302.1 767.1,1298.0 769.5,1293.0 771.9,1287.2 774.3,1280.4 776.7,1272.9 779.1,1264.7 781.5,1255.8 783.9,1246.3 786.3,1236.3 788.7,1225.9 791.1,1215.1 793.5,1204.1 795.9,1192.9 798.3,1181.7 800.7,1170.5 803.1,1159.4 805.5,1148.5 807.8,1137.9 810.2,1127.6 812.6,1117.9 815.0,1108.7 817.4,1100.1 819.8,1092.2 822.2,1085.0 824.6,1078.7 827.0,1073.3 829.4,1068.7 831.8,1065.1 834.2,1062.5 836.6,1060.9 839.0,1060.3 841.4,1060.7 843.8,1062.2 846.2,1064.6 848.6,1068.0 851.0,1072.4 853.4,1077.7 855.8,1083.9 858.2,1090.9 860.6,1098.7 863.0,1107.1 865.3,1116.3 867.7,1125.9 870.1,1136.1 872.5,1146.6 874.9,1157.5 877.3,1168.6 879.7,1179.8 882.1,1191.0 884.5,1202.2 886.9,1213.3 889.3,1224.1 891.7,1234.5 894.1,1244.6 896.5,1254.2 898.9,1263.2 901.3,1271.6 903.7,1279.2 906.1,1286.1 908.5,1292.1 910.9,1297.2 913.3,1301.4 915.7,1304.7 918.1,1307.0 920.5,1308.2 922.9,1308.5 925.2,1307.7 927.6,1305.9 930.0,1303.1 932.4,1299.4 934.8,1294.6 937.2,1289.0 939.6,1282.6 942.0,1275.3 944.4,1267.3 946.8,1258.6 949.2,1249.2 951.6,1239.4 954.0,1229.1 956.4,1218.4 958.8,1207.5 961.2,1196.4 963.6,1185.1 966.0,1173.9 968.4,1162.7 970.8,1151.8 973.2,1141.1 975.6,1130.7 978.0,1120.8 980.4,1111.4 982.8,1102.6 985.1,1094.5 987.5,1087.1 989.9,1080.5 992.3,1074.8 994.7,1070.0 997.1,1066.1 999.5,1063.2 1001.9,1061.3 1004.3,1060.4 1006.7,1060.5 1009.1,1061.6 1011.5,1063.8 1013.9,1066.9 1016.3,1071.0 1018.7,1076.0 1021.1,1081.9 1023.5,1088.7 1025.9,1096.2 1028.3,1104.5 1030.7,1113.4 1033.1,1122.9 1035.5,1132.9 1037.9,1143.4 1040.3,1154.1 1042.7,1165.2 1045.0,1176.3 1047.4,1187.6 1049.8,1198.8 1052.2,1209.9 1054.6,1220.8 1057.0,1231.4 1059.4,1241.6 1061.8,1251.3 1064.2,1260.5 1066.6,1269.1 1069.0,1276.9 1071.4,1284.1 1073.8,1290.3 1076.2,1295.8 1078.6,1300.3 1081.0,1303.8 1083.4,1306.4 1085.8,1307.9 1088.2,1308.5 1090.6,1308.0 1093.0,1306.6 1095.4,1304.1 1097.8,1300.6 1100.2,1296.2 1102.5,1290.8 1104.9,1284.6 1107.3,1277.6 1109.7,1269.8 1112.1,1261.3 1114.5,1252.1 1116.9,1242.4 1119.3,1232.3 1121.7,1221.7 1124.1,1210.8 1126.5,1199.8 1128.9,1188.5 1131.3,1177.3 1133.7,1166.1 1136.1,1155.1 1138.5,1144.3 1140.9,1133.8 1143.3,1123.8 1145.7,1114.2 1148.1,1105.2 1150.5,1096.9 1152.9,1089.3 1155.3,1082.5 1157.7,1076.5 1160.1,1071.4 1162.4,1067.2 1164.8,1064.0 1167.2,1061.8 1169.6,1060.5 1172.0,1060.3 1174.4,1061.2 1176.8,1063.0 1179.2,1065.8 1181.6,1069.6 1184.0,1074.4 1186.4,1080.0 1188.8,1086.5 1191.2,1093.8 1193.6,1101.9 1196.0,1110.6 1198.4,1120.0 1200.8,1129.8 1203.2,1140.2 1205.6,1150.8 1208.0,1161.8 1210.4,1172.9 1212.8,1184.2 1215.2,1195.4 1217.6,1206.6 1220.0,1217.5 1222.3,1228.2 1224.7,1238.5 1227.1,1248.4 1229.5,1257.8 1231.9,1266.5 1234.3,1274.6 1236.7,1282.0 1239.1,1288.5 1241.5,1294.2 1243.9,1299.0 1246.3,1302.8 1248.7,1305.7 1251.1,1307.6 1253.5,1308.4 1255.9,1308.3 1258.3,1307.1 1260.7,1304.9 1263.1,1301.8 1265.5,1297.6 1267.9,1292.6 1270.3,1286.6 1272.7,1279.8 1275.1,1272.2 1277.5,1263.9 1279.8,1255.0 1282.2,1245.4 1284.6,1235.4 1287.0,1225.0 1289.4,1214.2 1291.8,1203.1 1294.2,1192.0 1296.6,1180.7 1299.0,1169.5 1301.4,1158.4 1303.8,1147.5 1306.2,1137.0 1308.6,1126.8 1311.0,1117.1 1313.4,1107.9 1315.8,1099.4 1318.2,1091.5 1320.6,1084.5 1323.0,1078.2 1325.4,1072.8 1327.8,1068.4 1330.2,1064.9 1332.6,1062.3 1335.0,1060.8 1337.4,1060.3 1339.7,1060.8 1342.1,1062.3 1344.5,1064.9 1346.9,1068.4 1349.3,1072.8 1351.7,1078.2 1354.1,1084.5 1356.5,1091.5 1358.9,1099.4 1361.3,1107.9 1363.7,1117.1 1366.1,1126.8 1368.5,1137.0"/>
<path class="dots" d="M362.7 1419.2h0M363.2 1430.5h0M366.8 1426.3h0M364.7 1436.4h0M373.9 1436.7h0M376.7 1448.4h0M373.0 1457.1h0M377.0 1456.8h0M377.3 1471.2h0M386.6 1473.9h0M382.3 1481.1h0M391.5 1490.7h0M396.0 1499.8h0M393.8 1510.7h0M401.8 1520.3h0M394.4 1533.2h0M399.2 1543.4h0M406.4 1553.1h0M406.0 1564.5h0M415.1 1573.6h0M411.5 1584.8h0M415.9 1593.4h0M412.1 1602.2h0M422.9 1610.7h0M426.7 1617.7h0M424.6 1624.9h0M423.1 1645.2h0M431.9 1644.9h0M427.7 1647.6h0M439.5 1648.0h0M441.0 1655.9h0M443.4 1660.8h0M443.4 1664.1h0M446.0 1660.8h0M446.7 1657.5h0M449.8 1677.0h0M449.4 1652.0h0M456.2 1648.1h0M458.5 1649.7h0M455.7 1650.4h0M468.1 1633.4h0M460.9 1616.5h0M470.4 1615.7h0M472.4 1604.9h0M470.8 1598.7h0M473.7 1586.6h0M481.4 1578.2h0M478.2 1566.2h0M484.5 1556.5h0M483.1 1544.8h0M482.2 1533.2h0M496.4 1525.3h0M487.7 1512.8h0M491.8 1501.6h0M504.3 1495.1h0M504.8 1485.0h0M499.2 1470.4h0M508.9 1463.9h0M510.7 1464.0h0M514.5 1448.1h0M512.3 1447.4h0M520.4 1434.7h0M513.0 1422.1h0M517.9 1442.5h0M524.1 1429.0h0M526.2 1422.0h0M529.0 1426.2h0M533.5 1427.3h0M532.8 1426.9h0M530.9 1443.5h0M535.7 1453.7h0M544.6 1451.4h0M541.7 1452.1h0M552.1 1449.6h0M544.0 1463.8h0M545.7 1477.0h0M557.9 1482.1h0M554.8 1491.9h0M552.5 1502.4h0M562.5 1510.8h0M557.6 1522.6h0M568.0 1531.4h0M567.9 1542.8h0M574.4 1552.6h0M579.5 1562.8h0M570.2 1576.5h0M581.9 1583.8h0M583.9 1594.4h0M580.7 1606.8h0M592.3 1613.5h0M591.6 1616.4h0M595.4 1620.2h0M588.8 1647.2h0M602.3 1635.1h0M602.8 1640.9h0M600.2 1673.2h0M604.3 1652.7h0M607.2 1670.2h0M607.2 1648.5h0M612.1 1690.9h0M612.9 1661.2h0M614.0 1653.7h0M615.5 1655.5h0M621.8 1651.7h0M623.1 1647.5h0M629.2 1644.2h0M628.0 1632.5h0M633.4 1628.2h0M636.2 1614.1h0M632.6 1610.5h0M643.9 1598.5h0M638.0 1585.8h0M648.7 1578.7h0M644.4 1566.3h0M642.5 1554.6h0M652.1 1545.5h0M653.3 1534.5h0M650.9 1522.6h0M656.9 1512.5h0M666.4 1504.0h0M666.2 1493.5h0M671.1 1486.3h0M667.1 1473.0h0M665.7 1471.4h0M677.6 1466.9h0M675.4 1453.2h0M684.2 1445.9h0M685.7 1441.3h0M683.3 1432.3h0M682.6 1421.7h0M689.7 1432.8h0M692.7 1418.5h0M695.0 1420.3h0M695.0 1431.7h0M697.0 1435.4h0M696.5 1451.3h0M707.4 1445.5h0M705.1 1450.8h0M703.4 1453.0h0M710.2 1451.8h0M709.0 1462.4h0M719.3 1472.3h0M713.6 1485.1h0M720.1 1491.9h0M719.3 1502.1h0M731.0 1509.8h0M728.2 1521.5h0M731.3 1532.0h0M728.8 1543.9h0M735.4 1553.7h0M737.7 1564.4h0M746.2 1573.6h0M742.3 1585.2h0M753.0 1592.9h0M747.4 1604.6h0M758.1 1610.9h0M760.9 1623.2h0M763.4 1634.4h0M758.1 1624.5h0M761.2 1646.2h0M767.7 1650.6h0M764.7 1654.4h0M766.8 1654.0h0M774.2 1674.3h0M774.3 1653.2h0M778.1 1664.2h0M776.7 1662.9h0M785.0 1651.0h0M788.5 1639.4h0M783.3 1645.4h0M785.4 1648.9h0M793.5 1633.4h0M789.3 1628.7h0M795.9 1620.9h0M801.7 1615.6h0M805.4 1607.1h0M806.8 1597.6h0M810.8 1586.8h0M804.1 1575.7h0M813.1 1566.8h0M808.5 1554.7h0M822.1 1546.5h0M821.9 1535.1h0M821.8 1523.8h0M829.4 1514.7h0M833.4 1504.4h0M824.4 1492.1h0M833.9 1484.2h0M830.1 1477.2h0M835.6 1470.2h0M835.6 1454.6h0M839.3 1464.0h0M847.3 1435.6h0M846.3 1448.0h0M855.2 1436.8h0M853.7 1430.9h0M856.9 1437.3h0M858.2 1414.3h0M861.2 1429.1h0M865.0 1439.1h0M862.2 1425.6h0M868.3 1447.6h0M874.6 1441.6h0M869.6 1442.7h0M876.3 1449.9h0M872.5 1467.9h0M884.7 1464.2h0M882.2 1473.4h0M883.9 1478.3h0M889.7 1489.1h0M886.3 1502.3h0M896.5 1509.9h0M896.3 1521.2h0M898.8 1531.6h0M899.3 1542.8h0M902.2 1553.5h0M908.3 1563.3h0M902.3 1576.2h0M913.5 1584.2h0M912.2 1595.5h0M919.3 1603.5h0M913.1 1612.6h0M918.8 1624.8h0M917.6 1632.2h0M930.2 1637.3h0M925.3 1636.7h0M928.4 1628.6h0M932.7 1654.5h0M931.9 1655.2h0M937.1 1664.5h0M940.3 1664.3h0M943.0 1648.2h0M948.1 1666.2h0M945.8 1660.9h0M953.0 1648.7h0M948.2 1637.1h0M955.1 1633.4h0M959.6 1645.8h0M960.5 1628.6h0M962.2 1624.4h0M971.2 1613.1h0M967.9 1604.5h0M966.4 1597.3h0M967.3 1586.1h0M971.5 1576.0h0M979.5 1567.2h0M975.4 1554.9h0M978.9 1544.4h0M981.6 1533.7h0M990.1 1524.4h0M989.3 1513.1h0M995.7 1503.0h0M990.2 1491.1h0M1000.6 1487.6h0M996.7 1475.2h0M1002.1 1462.6h0M1011.4 1462.3h0M1006.0 1447.3h0M1013.8 1442.4h0M1017.9 1432.1h0M1015.6 1431.7h0M1023.4 1440.8h0M1024.5 1419.4h0M1022.7 1425.3h0M1025.6 1425.0h0M1030.3 1413.2h0M1036.0 1425.6h0M1029.7 1432.6h0M1039.4 1438.8h0M1034.3 1453.6h0M1043.2 1444.9h0M1048.5 1451.9h0M1044.9 1468.5h0M1050.6 1473.6h0M1048.2 1482.1h0M1060.0 1489.8h0M1053.0 1501.4h0M1062.8 1510.0h0M1063.7 1520.6h0M1070.0 1530.4h0M1062.2 1543.5h0M1062.6 1554.8h0M1076.8 1562.6h0M1072.4 1574.8h0M1073.1 1585.3h0M1076.1 1595.6h0M1075.9 1604.2h0M1087.6 1613.3h0M1081.8 1626.9h0M1091.7 1631.5h0M1094.0 1625.5h0M1090.6 1640.7h0M1101.9 1641.2h0M1094.5 1660.8h0M1104.6 1659.3h0M1106.3 1658.2h0M1106.5 1643.3h0M1108.4 1653.1h0M1112.2 1674.3h0M1111.3 1664.2h0M1111.8 1648.7h0M1122.3 1641.5h0M1120.6 1637.6h0M1119.9 1629.6h0M1123.6 1622.2h0M1135.7 1622.3h0M1134.8 1613.1h0M1140.2 1605.7h0M1135.6 1597.4h0M1140.9 1588.5h0M1140.1 1576.8h0M1149.3 1568.0h0M1143.9 1555.5h0M1153.9 1546.5h0M1149.2 1534.1h0M1151.8 1523.3h0M1163.6 1514.9h0M1160.9 1504.2h0M1167.4 1495.7h0M1159.7 1483.5h0M1162.6 1472.6h0M1173.2 1470.4h0M1176.0 1456.7h0M1173.1 1455.2h0M1182.3 1438.9h0M1174.7 1443.0h0M1184.0 1429.6h0M1180.0 1440.2h0M1190.8 1439.1h0M1189.0 1446.2h0M1193.2 1409.9h0M1194.6 1444.6h0M1198.1 1438.0h0M1199.4 1428.1h0M1206.7 1433.1h0M1203.3 1460.7h0M1202.1 1456.3h0M1206.0 1453.8h0M1217.8 1459.5h0M1212.6 1480.3h0M1219.9 1477.9h0M1215.4 1490.1h0M1227.2 1499.8h0M1226.2 1510.5h0M1225.9 1521.6h0M1232.4 1531.2h0M1229.1 1543.3h0M1232.5 1553.8h0M1231.4 1565.4h0M1240.9 1574.6h0M1241.0 1585.0h0M1245.7 1596.3h0M1242.8 1602.3h0M1248.8 1611.3h0M1256.1 1620.1h0M1256.6 1621.4h0M1254.3 1634.8h0M1256.3 1630.7h0M1268.0 1649.9h0M1264.6 1645.2h0M1269.1 1667.3h0M1269.6 1665.7h0M1274.3 1652.9h0M1275.9 1644.5h0M1276.1 1647.9h0M1281.8 1662.8h0M1287.1 1649.6h0M1287.1 1653.7h0M1285.5 1644.9h0M1293.1 1642.2h0M1292.0 1638.1h0M1300.9 1631.7h0M1301.8 1618.7h0M1294.6 1604.3h0M1306.2 1597.5h0M1304.3 1586.3h0M1308.9 1577.6h0M1308.4 1566.3h0M1309.9 1555.5h0M1319.8 1546.5h0M1319.0 1535.0h0M1327.1 1525.7h0M1324.1 1513.9h0M1327.7 1504.7h0M1328.9 1493.3h0M1326.7 1484.4h0M1336.7 1475.2h0M1330.4 1472.7h0M1342.8 1457.7h0M1334.6 1450.7h0M1345.2 1435.3h0M1350.6 1448.0h0M1347.3 1427.8h0M1349.4 1425.7h0M1354.9 1426.5h0M1355.2 1437.7h0M1357.5 1428.9h0M1363.7 1426.7h0M1364.5 1432.1h0M1362.0 1432.1h0M1370.1 1433.0h0"/>
<polyline class="fit" points="362.2,1431.1 364.6,1431.9 367.0,1433.7 369.4,1436.3 371.8,1439.9 374.2,1444.3 376.6,1449.5 379.0,1455.5 381.4,1462.2 383.8,1469.6 386.2,1477.6 388.6,1486.1 391.0,1495.2 393.3,1504.6 395.7,1514.3 398.1,1524.3 400.5,1534.5 402.9,1544.7 405.3,1554.9 407.7,1565.1 410.1,1575.1 412.5,1584.8 414.9,1594.1 417.3,1603.1 419.7,1611.6 422.1,1619.5 424.5,1626.8 426.9,1633.4 429.3,1639.3 431.7,1644.4 434.1,1648.7 436.5,1652.1 438.9,1654.6 441.3,1656.3 443.7,1657.0 446.1,1656.7 448.5,1655.6 450.9,1653.5 453.2,1650.6 455.6,1646.7 458.0,1642.0 460.4,1636.5 462.8,1630.3 465.2,1623.3 467.6,1615.7 470.0,1607.5 472.4,1598.8 474.8,1589.6 477.2,1580.1 479.6,1570.2 482.0,1560.1 484.4,1550.0 486.8,1539.7 489.2,1529.5 491.6,1519.4 494.0,1509.5 496.4,1499.9 498.8,1490.7 501.2,1481.9 503.6,1473.6 506.0,1465.9 508.4,1458.8 510.7,1452.4 513.1,1446.8 515.5,1442.0 517.9,1438.0 520.3,1434.9 522.7,1432.7 525.1,1431.4 527.5,1431.0 529.9,1431.6 532.3,1433.0 534.7,1435.4 537.1,1438.7 539.5,1442.8 541.9,1447.8 544.3,1453.6 546.7,1460.1 549.1,1467.3 551.5,1475.1 553.9,1483.5 556.3,1492.4 558.7,1501.7 561.1,1511.3 563.5,1521.3 565.9,1531.4 568.3,1541.6 570.6,1551.8 573.0,1562.0 575.4,1572.0 577.8,1581.8 580.2,1591.3 582.6,1600.4 585.0,1609.0 587.4,1617.1 589.8,1624.6 592.2,1631.5 594.6,1637.6 597.0,1642.9 599.4,1647.5 601.8,1651.2 604.2,1654.0 606.6,1655.9 609.0,1656.9 611.4,1656.9 613.8,1656.0 616.2,1654.2 618.6,1651.5 621.0,1648.0 623.4,1643.5 625.8,1638.3 628.2,1632.3 630.5,1625.5 632.9,1618.1 635.3,1610.1 637.7,1601.5 640.1,1592.4 642.5,1583.0 644.9,1573.2 647.3,1563.2 649.7,1553.1 652.1,1542.8 654.5,1532.6 656.9,1522.5 659.3,1512.5 661.7,1502.8 664.1,1493.5 666.5,1484.5 668.9,1476.1 671.3,1468.2 673.7,1460.9 676.1,1454.3 678.5,1448.5 680.9,1443.4 683.3,1439.1 685.7,1435.8 688.0,1433.3 690.4,1431.7 692.8,1431.0 695.2,1431.3 697.6,1432.5 700.0,1434.6 702.4,1437.6 704.8,1441.5 707.2,1446.2 709.6,1451.7 712.0,1458.0 714.4,1465.0 716.8,1472.6 719.2,1480.9 721.6,1489.6 724.0,1498.8 726.4,1508.4 728.8,1518.2 731.2,1528.3 733.6,1538.5 736.0,1548.7 738.4,1558.9 740.8,1569.0 743.2,1578.9 745.6,1588.5 747.9,1597.7 750.3,1606.5 752.7,1614.7 755.1,1622.4 757.5,1629.5 759.9,1635.8 762.3,1641.4 764.7,1646.2 767.1,1650.1 769.5,1653.2 771.9,1655.4 774.3,1656.7 776.7,1657.0 779.1,1656.4 781.5,1654.9 783.9,1652.5 786.3,1649.2 788.7,1645.0 791.1,1640.0 793.5,1634.2 795.9,1627.6 798.3,1620.4 800.7,1612.6 803.1,1604.1 805.5,1595.2 807.8,1585.9 810.2,1576.2 812.6,1566.3 815.0,1556.2 817.4,1546.0 819.8,1535.7 822.2,1525.5 824.6,1515.5 827.0,1505.7 829.4,1496.3 831.8,1487.2 834.2,1478.6 836.6,1470.5 839.0,1463.0 841.4,1456.2 843.8,1450.2 846.2,1444.8 848.6,1440.3 851.0,1436.7 853.4,1433.9 855.8,1432.1 858.2,1431.1 860.6,1431.1 863.0,1432.0 865.3,1433.9 867.7,1436.6 870.1,1440.2 872.5,1444.7 874.9,1450.0 877.3,1456.0 879.7,1462.8 882.1,1470.3 884.5,1478.3 886.9,1486.9 889.3,1496.0 891.7,1505.4 894.1,1515.2 896.5,1525.2 898.9,1535.4 901.3,1545.6 903.7,1555.8 906.1,1566.0 908.5,1575.9 910.9,1585.6 913.3,1594.9 915.7,1603.9 918.1,1612.3 920.5,1620.2 922.9,1627.4 925.2,1634.0 927.6,1639.8 930.0,1644.8 932.4,1649.0 934.8,1652.4 937.2,1654.8 939.6,1656.4 942.0,1657.0 944.4,1656.7 946.8,1655.4 949.2,1653.3 951.6,1650.3 954.0,1646.3 956.4,1641.6 958.8,1636.0 961.2,1629.7 963.6,1622.7 966.0,1615.0 968.4,1606.8 970.8,1598.0 973.2,1588.8 975.6,1579.2 978.0,1569.3 980.4,1559.3 982.8,1549.1 985.1,1538.8 987.5,1528.6 989.9,1518.6 992.3,1508.7 994.7,1499.1 997.1,1489.9 999.5,1481.2 1001.9,1472.9 1004.3,1465.2 1006.7,1458.2 1009.1,1451.9 1011.5,1446.4 1013.9,1441.6 1016.3,1437.7 1018.7,1434.7 1021.1,1432.5 1023.5,1431.3 1025.9,1431.0 1028.3,1431.6 1030.7,1433.2 1033.1,1435.7 1035.5,1439.0 1037.9,1443.2 1040.3,1448.3 1042.7,1454.1 1045.0,1460.7 1047.4,1467.9 1049.8,1475.8 1052.2,1484.2 1054.6,1493.2 1057.0,1502.5 1059.4,1512.2 1061.8,1522.1 1064.2,1532.3 1066.6,1542.5 1069.0,1552.7 1071.4,1562.9 1073.8,1572.9 1076.2,1582.7 1078.6,1592.1 1081.0,1601.2 1083.4,1609.8 1085.8,1617.8 1088.2,1625.3 1090.6,1632.0 1093.0,1638.1 1095.4,1643.4 1097.8,1647.8 1100.2,1651.4 1102.5,1654.2 1104.9,1656.0 1107.3,1656.9 1109.7,1656.9 1112.1,1655.9 1114.5,1654.0 1116.9,1651.3 1119.3,1647.6 1121.7,1643.1 1124.1,1637.8 1126.5,1631.7 1128.9,1624.9 1131.3,1617.4 1133.7,1609.3 1136.1,1600.7 1138.5,1591.6 1140.9,1582.2 1143.3,1572.4 1145.7,1562.4 1148.1,1552.2 1150.5,1541.9 1152.9,1531.7 1155.3,1521.6 1157.7,1511.7 1160.1,1502.0 1162.4,1492.7 1164.8,1483.8 1167.2,1475.4 1169.6,1467.5 1172.0,1460.3 1174.4,1453.8 1176.8,1448.0 1179.2,1443.0 1181.6,1438.8 1184.0,1435.5 1186.4,1433.1 1188.8,1431.6 1191.2,1431.0 1193.6,1431.4 1196.0,1432.6 1198.4,1434.8 1200.8,1437.9 1203.2,1441.9 1205.6,1446.7 1208.0,1452.2 1210.4,1458.6 1212.8,1465.6 1215.2,1473.3 1217.6,1481.6 1220.0,1490.4 1222.3,1499.6 1224.7,1509.2 1227.1,1519.1 1229.5,1529.2 1231.9,1539.4 1234.3,1549.6 1236.7,1559.8 1239.1,1569.9 1241.5,1579.7 1243.9,1589.3 1246.3,1598.5 1248.7,1607.2 1251.1,1615.4 1253.5,1623.1 1255.9,1630.1 1258.3,1636.3 1260.7,1641.8 1263.1,1646.6 1265.5,1650.4 1267.9,1653.4 1270.3,1655.5 1272.7,1656.7 1275.1,1657.0 1277.5,1656.3 1279.8,1654.7 1282.2,1652.2 1284.6,1648.8 1287.0,1644.6 1289.4,1639.5 1291.8,1633.6 1294.2,1627.0 1296.6,1619.8 1299.0,1611.8 1301.4,1603.4 1303.8,1594.4 1306.2,1585.1 1308.6,1575.4 1311.0,1565.4 1313.4,1555.3 1315.8,1545.1 1318.2,1534.8 1320.6,1524.7 1323.0,1514.7 1325.4,1504.9 1327.8,1495.5 1330.2,1486.4 1332.6,1477.9 1335.0,1469.8 1337.4,1462.4 1339.7,1455.7 1342.1,1449.7 1344.5,1444.4 1346.9,1440.0 1349.3,1436.4 1351.7,1433.7 1354.1,1431.9 1356.5,1431.1 1358.9,1431.2 1361.3,1432.1 1363.7,1434.1 1366.1,1436.9 1368.5,1440.6"/>
<path class="dots" d="M359.4 1886.9h0M365.3 1879.3h0M365.3 1867.1h0M372.3 1864.8h0M371.1 1853.7h0M374.0 1844.1h0M376.9 1841.2h0M377.1 1844.3h0M380.7 1835.7h0M385.6 1845.7h0M387.2 1841.2h0M390.9 1844.5h0M394.2 1833.0h0M393.2 1841.4h0M394.5 1839.6h0M397.8 1849.7h0M401.2 1856.6h0M405.6 1869.3h0M409.9 1872.1h0M408.8 1883.7h0M410.8 1894.3h0M412.9 1902.9h0M420.2 1913.4h0M418.7 1925.3h0M424.0 1936.4h0M423.5 1949.0h0M430.8 1960.0h0M432.9 1972.2h0M431.9 1984.9h0M434.4 1997.0h0M438.3 2007.9h0M441.1 2019.6h0M444.8 2029.0h0M442.1 2042.5h0M448.6 2050.6h0M447.7 2065.2h0M451.5 2066.5h0M453.1 2071.7h0M456.8 2080.9h0M459.7 2081.6h0M465.4 2084.9h0M464.8 2080.9h0M468.3 2089.3h0M470.7 2099.8h0M471.4 2076.9h0M477.0 2086.2h0M480.9 2086.5h0M477.4 2078.0h0M481.5 2073.8h0M483.5 2067.2h0M490.7 2062.0h0M492.2 2053.8h0M491.5 2045.3h0M496.2 2035.7h0M495.0 2024.0h0M501.8 2014.0h0M504.4 2002.8h0M504.2 1990.2h0M510.1 1979.0h0M509.9 1966.4h0M514.0 1954.6h0M513.2 1941.9h0M521.5 1931.4h0M523.9 1919.5h0M526.8 1909.1h0M523.7 1896.0h0M526.9 1888.5h0M529.9 1878.1h0M534.6 1870.2h0M535.5 1862.2h0M538.5 1856.7h0M540.2 1851.3h0M546.2 1846.8h0M544.7 1833.0h0M549.6 1845.2h0M551.8 1841.1h0M553.5 1833.5h0M555.0 1835.7h0M557.0 1838.7h0M562.5 1834.2h0M565.9 1849.0h0M564.1 1849.1h0M568.0 1856.0h0M567.9 1870.3h0M572.9 1876.1h0M573.9 1885.7h0M576.7 1893.3h0M580.4 1902.2h0M584.5 1913.0h0M585.7 1925.0h0M591.0 1936.1h0M593.3 1948.1h0M590.7 1961.3h0M597.6 1972.4h0M596.3 1985.2h0M602.5 1996.2h0M602.6 2008.5h0M607.8 2018.5h0M607.1 2029.1h0M608.6 2039.7h0M610.3 2050.9h0M617.2 2057.4h0M617.7 2063.8h0M621.7 2077.2h0M620.6 2078.7h0M624.8 2078.8h0M630.1 2071.5h0M631.2 2086.9h0M634.5 2081.5h0M636.0 2082.0h0M639.7 2093.6h0M642.4 2087.7h0M642.3 2078.0h0M647.8 2083.1h0M648.6 2081.9h0M652.2 2072.4h0M655.4 2067.6h0M659.1 2054.3h0M656.7 2045.0h0M664.8 2034.9h0M663.1 2023.9h0M669.6 2014.7h0M671.4 2002.6h0M669.3 1990.1h0M671.4 1978.0h0M676.2 1966.5h0M678.3 1954.3h0M683.9 1943.0h0M682.0 1930.2h0M683.7 1917.7h0M686.0 1907.1h0M694.9 1899.5h0M690.8 1885.1h0M697.1 1873.1h0M699.0 1873.4h0M698.5 1861.0h0M705.3 1850.5h0M709.4 1849.1h0M708.1 1843.4h0M712.6 1836.8h0M713.3 1825.2h0M718.0 1836.5h0M719.2 1838.5h0M720.9 1831.6h0M722.0 1836.7h0M725.6 1851.2h0M730.1 1857.2h0M729.2 1847.0h0M737.3 1850.3h0M738.5 1866.6h0M738.7 1873.2h0M744.6 1881.7h0M746.7 1891.2h0M747.4 1903.0h0M746.3 1913.8h0M755.2 1924.3h0M757.2 1936.0h0M759.6 1948.0h0M757.6 1961.0h0M759.4 1973.3h0M763.9 1984.9h0M766.7 1996.6h0M770.5 2008.0h0M771.3 2019.4h0M774.5 2030.2h0M778.3 2039.9h0M779.0 2048.3h0M785.5 2059.3h0M781.6 2065.9h0M789.6 2080.3h0M786.9 2080.5h0M789.7 2086.3h0M797.2 2091.1h0M797.2 2088.8h0M800.1 2097.7h0M802.6 2088.9h0M805.4 2084.6h0M804.9 2081.5h0M812.2 2088.8h0M810.8 2077.5h0M815.6 2071.1h0M816.2 2068.9h0M820.8 2064.9h0M824.7 2056.5h0M826.6 2044.5h0M830.9 2035.0h0M830.4 2024.4h0M829.7 2012.6h0M836.4 2002.6h0M834.5 1989.9h0M837.7 1978.2h0M846.0 1967.3h0M846.0 1954.7h0M849.8 1942.9h0M852.9 1931.2h0M851.4 1919.3h0M852.4 1907.0h0M855.2 1897.4h0M857.9 1887.0h0M859.4 1877.5h0M866.3 1871.8h0M866.4 1861.8h0M868.9 1859.1h0M874.8 1848.0h0M876.0 1842.0h0M877.0 1847.8h0M878.6 1832.9h0M883.4 1833.9h0M885.3 1834.7h0M887.2 1837.8h0M891.5 1839.7h0M890.8 1846.1h0M895.8 1853.6h0M899.9 1850.0h0M902.2 1857.7h0M900.9 1866.1h0M908.9 1873.4h0M911.2 1881.9h0M909.3 1892.0h0M913.7 1902.2h0M914.4 1913.4h0M920.4 1924.6h0M919.0 1937.0h0M923.8 1948.4h0M928.6 1960.0h0M930.1 1972.3h0M934.2 1983.9h0M930.4 1997.2h0M932.2 2008.7h0M937.3 2019.2h0M939.1 2029.9h0M942.4 2038.1h0M947.1 2048.7h0M947.0 2056.0h0M949.5 2065.4h0M950.6 2073.1h0M956.8 2075.8h0M959.9 2091.3h0M962.9 2082.7h0M963.8 2095.5h0M964.8 2100.8h0M968.1 2090.4h0M971.7 2091.4h0M973.8 2087.5h0M975.3 2085.5h0M976.4 2080.0h0M977.8 2071.0h0M980.7 2071.7h0M987.5 2058.7h0M989.3 2050.8h0M992.4 2042.7h0M992.5 2033.3h0M994.6 2024.4h0M996.3 2013.5h0M1004.3 2003.0h0M1002.1 1990.3h0M1007.2 1978.9h0M1007.8 1966.5h0M1009.8 1954.3h0M1013.0 1942.4h0M1017.7 1930.9h0M1021.2 1919.8h0M1023.2 1908.0h0M1021.2 1897.1h0M1024.8 1887.8h0M1031.8 1879.6h0M1030.4 1869.3h0M1035.0 1863.3h0M1033.9 1852.5h0M1040.1 1852.7h0M1043.5 1844.0h0M1045.5 1837.6h0M1044.4 1836.0h0M1050.2 1842.0h0M1051.6 1831.1h0M1054.3 1827.1h0M1055.5 1840.5h0M1060.8 1837.8h0M1059.1 1840.7h0M1062.7 1856.0h0M1069.7 1863.7h0M1068.5 1868.0h0M1073.2 1868.7h0M1077.4 1884.2h0M1075.6 1892.1h0M1082.0 1901.5h0M1084.8 1912.4h0M1087.5 1924.1h0M1084.2 1937.0h0M1089.9 1948.3h0M1093.3 1960.2h0M1097.9 1971.9h0M1094.9 1985.0h0M1096.5 1997.2h0M1099.2 2008.4h0M1106.4 2017.9h0M1104.4 2029.5h0M1108.7 2039.0h0M1110.2 2052.7h0M1116.2 2056.3h0M1118.3 2068.0h0M1117.0 2078.4h0M1124.2 2073.8h0M1122.5 2078.2h0M1128.4 2082.8h0M1127.6 2088.5h0M1131.4 2096.0h0M1134.7 2083.7h0M1136.6 2095.0h0M1139.9 2082.5h0M1140.0 2085.7h0M1143.5 2086.4h0M1149.6 2078.7h0M1149.0 2078.5h0M1152.6 2067.4h0M1156.7 2052.6h0M1155.0 2043.5h0M1162.9 2038.0h0M1160.7 2024.7h0M1167.2 2014.8h0M1168.7 2002.8h0M1168.0 1990.5h0M1174.0 1979.2h0M1171.6 1966.1h0M1176.5 1954.5h0M1181.5 1943.0h0M1181.9 1930.7h0M1187.7 1919.6h0M1188.7 1907.7h0M1187.6 1896.6h0M1194.0 1890.5h0M1191.4 1877.1h0M1200.3 1869.5h0M1201.6 1869.8h0M1204.8 1855.8h0M1206.8 1847.8h0M1204.9 1841.4h0M1212.2 1850.5h0M1213.7 1839.4h0M1214.4 1840.7h0M1217.4 1833.8h0M1219.8 1832.5h0M1224.4 1829.4h0M1227.0 1843.2h0M1227.3 1850.9h0M1228.6 1851.9h0M1230.0 1859.9h0M1232.3 1868.9h0M1238.2 1869.1h0M1237.5 1880.8h0M1241.3 1892.1h0M1242.5 1902.4h0M1249.5 1912.7h0M1252.4 1924.4h0M1256.3 1935.8h0M1253.8 1948.7h0M1258.3 1960.3h0M1258.6 1972.9h0M1260.9 1985.0h0M1267.3 1996.2h0M1265.7 2008.5h0M1272.5 2019.0h0M1270.6 2030.6h0M1276.9 2039.9h0M1275.2 2050.8h0M1282.0 2053.2h0M1285.1 2069.6h0M1284.4 2073.3h0M1288.7 2086.5h0M1290.0 2084.2h0M1295.0 2083.0h0M1293.2 2087.9h0M1298.9 2098.8h0M1300.4 2093.5h0M1301.7 2095.2h0M1304.3 2086.3h0M1307.9 2085.1h0M1309.3 2077.0h0M1316.1 2080.1h0M1314.6 2069.8h0M1316.5 2059.7h0M1321.6 2055.6h0M1320.5 2044.9h0M1324.7 2035.9h0M1328.9 2025.8h0M1327.9 2012.7h0M1335.1 2002.9h0M1335.4 1990.6h0M1341.5 1979.5h0M1338.6 1966.3h0M1346.8 1955.4h0M1343.1 1942.0h0M1350.7 1931.4h0M1349.6 1919.1h0M1355.3 1908.9h0M1354.9 1899.0h0M1361.8 1889.5h0M1359.7 1879.8h0M1361.9 1870.2h0M1369.4 1862.7h0M1365.9 1856.5h0"/>
<polyline class="fit" points="362.2,1887.3 364.6,1878.4 367.0,1870.2 369.4,1862.7 371.8,1856.1 374.2,1850.4 376.6,1845.6 379.0,1841.8 381.4,1839.0 383.8,1837.2 386.2,1836.4 388.6,1836.7 391.0,1838.0 393.3,1840.4 395.7,1843.8 398.1,1848.1 400.5,1853.4 402.9,1859.6 405.3,1866.7 407.7,1874.6 410.1,1883.2 412.5,1892.4 414.9,1902.2 417.3,1912.6 419.7,1923.3 422.1,1934.4 424.5,1945.8 426.9,1957.2 429.3,1968.8 431.7,1980.3 434.1,1991.6 436.5,2002.7 438.9,2013.5 441.3,2023.9 443.7,2033.8 446.1,2043.1 448.5,2051.8 450.9,2059.7 453.2,2066.9 455.6,2073.2 458.0,2078.6 460.4,2083.0 462.8,2086.5 465.2,2089.0 467.6,2090.4 470.0,2090.8 472.4,2090.1 474.8,2088.5 477.2,2085.7 479.6,2082.0 482.0,2077.3 484.4,2071.7 486.8,2065.2 489.2,2057.8 491.6,2049.7 494.0,2040.9 496.4,2031.4 498.8,2021.4 501.2,2010.9 503.6,2000.0 506.0,1988.8 508.4,1977.5 510.7,1966.0 513.1,1954.4 515.5,1943.0 517.9,1931.7 520.3,1920.7 522.7,1910.0 525.1,1899.8 527.5,1890.1 529.9,1881.0 532.3,1872.6 534.7,1864.9 537.1,1858.0 539.5,1852.1 541.9,1847.0 544.3,1842.9 546.7,1839.7 549.1,1837.6 551.5,1836.5 553.9,1836.5 556.3,1837.5 558.7,1839.6 561.1,1842.6 563.5,1846.7 565.9,1851.7 568.3,1857.7 570.6,1864.5 573.0,1872.1 575.4,1880.5 577.8,1889.5 580.2,1899.2 582.6,1909.4 585.0,1920.0 587.4,1931.0 589.8,1942.3 592.2,1953.7 594.6,1965.3 597.0,1976.8 599.4,1988.2 601.8,1999.4 604.2,2010.3 606.6,2020.8 609.0,2030.8 611.4,2040.3 613.8,2049.2 616.2,2057.4 618.6,2064.8 621.0,2071.3 623.4,2077.0 625.8,2081.8 628.2,2085.5 630.5,2088.3 632.9,2090.1 635.3,2090.8 637.7,2090.5 640.1,2089.1 642.5,2086.7 644.9,2083.3 647.3,2078.9 649.7,2073.5 652.1,2067.3 654.5,2060.2 656.9,2052.3 659.3,2043.7 661.7,2034.4 664.1,2024.5 666.5,2014.2 668.9,2003.4 671.3,1992.3 673.7,1980.9 676.1,1969.5 678.5,1957.9 680.9,1946.4 683.3,1935.1 685.7,1924.0 688.0,1913.2 690.4,1902.9 692.8,1893.0 695.2,1883.7 697.6,1875.1 700.0,1867.2 702.4,1860.0 704.8,1853.8 707.2,1848.4 709.6,1844.0 712.0,1840.6 714.4,1838.2 716.8,1836.8 719.2,1836.4 721.6,1837.1 724.0,1838.8 726.4,1841.6 728.8,1845.4 731.2,1850.1 733.6,1855.8 736.0,1862.3 738.4,1869.7 740.8,1877.8 743.2,1886.7 745.6,1896.2 747.9,1906.2 750.3,1916.8 752.7,1927.7 755.1,1938.8 757.5,1950.2 759.9,1961.7 762.3,1973.3 764.7,1984.7 767.1,1996.0 769.5,2007.0 771.9,2017.6 774.3,2027.8 776.7,2037.5 779.1,2046.6 781.5,2055.0 783.9,2062.6 786.3,2069.4 788.7,2075.4 791.1,2080.4 793.5,2084.5 795.9,2087.6 798.3,2089.6 800.7,2090.7 803.1,2090.7 805.5,2089.6 807.8,2087.5 810.2,2084.4 812.6,2080.3 815.0,2075.2 817.4,2069.3 819.8,2062.4 822.2,2054.8 824.6,2046.3 827.0,2037.3 829.4,2027.6 831.8,2017.4 834.2,2006.7 836.6,1995.7 839.0,1984.4 841.4,1973.0 843.8,1961.4 846.2,1949.9 848.6,1938.5 851.0,1927.4 853.4,1916.5 855.8,1906.0 858.2,1895.9 860.6,1886.5 863.0,1877.6 865.3,1869.5 867.7,1862.1 870.1,1855.6 872.5,1850.0 874.9,1845.2 877.3,1841.5 879.7,1838.8 882.1,1837.1 884.5,1836.4 886.9,1836.8 889.3,1838.2 891.7,1840.7 894.1,1844.1 896.5,1848.6 898.9,1853.9 901.3,1860.2 903.7,1867.4 906.1,1875.3 908.5,1883.9 910.9,1893.2 913.3,1903.1 915.7,1913.5 918.1,1924.3 920.5,1935.4 922.9,1946.8 925.2,1958.2 927.6,1969.8 930.0,1981.2 932.4,1992.6 934.8,2003.7 937.2,2014.4 939.6,2024.8 942.0,2034.6 944.4,2043.9 946.8,2052.5 949.2,2060.4 951.6,2067.4 954.0,2073.7 956.4,2079.0 958.8,2083.4 961.2,2086.7 963.6,2089.1 966.0,2090.5 968.4,2090.8 970.8,2090.0 973.2,2088.3 975.6,2085.5 978.0,2081.7 980.4,2076.9 982.8,2071.2 985.1,2064.6 987.5,2057.2 989.9,2049.0 992.3,2040.1 994.7,2030.6 997.1,2020.5 999.5,2010.0 1001.9,1999.1 1004.3,1987.9 1006.7,1976.5 1009.1,1964.9 1011.5,1953.4 1013.9,1942.0 1016.3,1930.7 1018.7,1919.7 1021.1,1909.1 1023.5,1898.9 1025.9,1889.3 1028.3,1880.2 1030.7,1871.9 1033.1,1864.3 1035.5,1857.5 1037.9,1851.6 1040.3,1846.6 1042.7,1842.5 1045.0,1839.5 1047.4,1837.5 1049.8,1836.5 1052.2,1836.6 1054.6,1837.7 1057.0,1839.8 1059.4,1843.0 1061.8,1847.1 1064.2,1852.2 1066.6,1858.2 1069.0,1865.1 1071.4,1872.8 1073.8,1881.2 1076.2,1890.3 1078.6,1900.1 1081.0,1910.3 1083.4,1921.0 1085.8,1932.0 1088.2,1943.3 1090.6,1954.7 1093.0,1966.3 1095.4,1977.8 1097.8,1989.2 1100.2,2000.3 1102.5,2011.2 1104.9,2021.7 1107.3,2031.7 1109.7,2041.1 1112.1,2050.0 1114.5,2058.1 1116.9,2065.4 1119.3,2071.9 1121.7,2077.5 1124.1,2082.1 1126.5,2085.8 1128.9,2088.5 1131.3,2090.2 1133.7,2090.8 1136.1,2090.4 1138.5,2088.9 1140.9,2086.4 1143.3,2082.9 1145.7,2078.4 1148.1,2073.0 1150.5,2066.7 1152.9,2059.5 1155.3,2051.6 1157.7,2042.9 1160.1,2033.5 1162.4,2023.6 1164.8,2013.2 1167.2,2002.4 1169.6,1991.3 1172.0,1979.9 1174.4,1968.5 1176.8,1956.9 1179.2,1945.5 1181.6,1934.1 1184.0,1923.1 1186.4,1912.3 1188.8,1902.0 1191.2,1892.2 1193.6,1882.9 1196.0,1874.3 1198.4,1866.5 1200.8,1859.5 1203.2,1853.3 1205.6,1848.0 1208.0,1843.7 1210.4,1840.3 1212.8,1838.0 1215.2,1836.7 1217.6,1836.4 1220.0,1837.2 1222.3,1839.0 1224.7,1841.9 1227.1,1845.7 1229.5,1850.6 1231.9,1856.3 1234.3,1862.9 1236.7,1870.4 1239.1,1878.6 1241.5,1887.5 1243.9,1897.0 1246.3,1907.1 1248.7,1917.7 1251.1,1928.6 1253.5,1939.8 1255.9,1951.2 1258.3,1962.8 1260.7,1974.3 1263.1,1985.7 1265.5,1997.0 1267.9,2007.9 1270.3,2018.5 1272.7,2028.7 1275.1,2038.3 1277.5,2047.3 1279.8,2055.7 1282.2,2063.2 1284.6,2070.0 1287.0,2075.9 1289.4,2080.8 1291.8,2084.8 1294.2,2087.8 1296.6,2089.8 1299.0,2090.7 1301.4,2090.6 1303.8,2089.5 1306.2,2087.3 1308.6,2084.1 1311.0,2079.9 1313.4,2074.8 1315.8,2068.7 1318.2,2061.8 1320.6,2054.1 1323.0,2045.6 1325.4,2036.4 1327.8,2026.7 1330.2,2016.4 1332.6,2005.8 1335.0,1994.7 1337.4,1983.4 1339.7,1972.0 1342.1,1960.4 1344.5,1948.9 1346.9,1937.6 1349.3,1926.4 1351.7,1915.5 1354.1,1905.1 1356.5,1895.1 1358.9,1885.7 1361.3,1876.9 1363.7,1868.8 1366.1,1861.5 1368.5,1855.1"/>
<path class="ax" d="M237.2 226.0V2142.0"/>
<path class="ax" d="M1482.0 226.0V2142.0"/>
<path class="ax" d="M235.2 228.0H1484.0"/>
<path class="ax" d="M235.2 611.0H1484.0"/>
<path class="ax" d="M235.2 993.5H1484.0"/>
<path class="ax" d="M235.2 1376.2H1484.0"/>
<path class="ax" d="M235.2 1757.3H1484.0"/>
<path class="ax" d="M235.2 2140.0H1484.0"/>
<path class="tk" d="M360.2 611.0V634.8L362.2 637.0L364.2 634.8V611.0ZM609.0 611.0V634.8L611.0 637.0L613.0 634.8V611.0ZM857.7 611.0V634.8L859.7 637.0L861.7 634.8V611.0ZM1106.5 611.0V634.8L1108.5 637.0L1110.5 634.8V611.0ZM1355.2 611.0V634.8L1357.2 637.0L1359.2 634.8V611.0ZM484.6 611.0V623.6L486.6 625.8L488.6 623.6V611.0ZM733.3 611.0V623.6L735.3 625.8L737.3 623.6V611.0ZM982.1 611.0V623.6L984.1 625.8L986.1 623.6V611.0ZM1230.8 611.0V623.6L1232.8 625.8L1234.8 623.6V611.0ZM360.2 993.5V1017.3L362.2 1019.5L364.2 1017.3V993.5ZM609.0 993.5V1017.3L611.0 1019.5L613.0 1017.3V993.5ZM857.7 993.5V1017.3L859.7 1019.5L861.7 1017.3V993.5ZM1106.5 993.5V1017.3L1108.5 1019.5L1110.5 1017.3V993.5ZM1355.2 993.5V1017.3L1357.2 1019.5L1359.2 1017.3V993.5ZM484.6 993.5V1006.1L486.6 1008.3L488.6 1006.1V993.5ZM733.3 993.5V1006.1L735.3 1008.3L737.3 1006.1V993.5ZM982.1 993.5V1006.1L984.1 1008.3L986.1 1006.1V993.5ZM1230.8 993.5V1006.1L1232.8 1008.3L1234.8 1006.1V993.5ZM360.2 1376.2V1400.0L362.2 1402.2L364.2 1400.0V1376.2ZM609.0 1376.2V1400.0L611.0 1402.2L613.0 1400.0V1376.2ZM857.7 1376.2V1400.0L859.7 1402.2L861.7 1400.0V1376.2ZM1106.5 1376.2V1400.0L1108.5 1402.2L1110.5 1400.0V1376.2ZM1355.2 1376.2V1400.0L1357.2 1402.2L1359.2 1400.0V1376.2ZM484.6 1376.2V1388.8L486.6 1391.0L488.6 1388.8V1376.2ZM733.3 1376.2V1388.8L735.3 1391.0L737.3 1388.8V1376.2ZM982.1 1376.2V1388.8L984.1 1391.0L986.1 1388.8V1376.2ZM1230.8 1376.2V1388.8L1232.8 1391.0L1234.8 1388.8V1376.2ZM360.2 1757.3V1781.1L362.2 1783.3L364.2 1781.1V1757.3ZM609.0 1757.3V1781.1L611.0 1783.3L613.0 1781.1V1757.3ZM857.7 1757.3V1781.1L859.7 1783.3L861.7 1781.1V1757.3ZM1106.5 1757.3V1781.1L1108.5 1783.3L1110.5 1781.1V1757.3ZM1355.2 1757.3V1781.1L1357.2 1783.3L1359.2 1781.1V1757.3ZM484.6 1757.3V1769.9L486.6 1772.1L488.6 1769.9V1757.3ZM733.3 1757.3V1769.9L735.3 1772.1L737.3 1769.9V1757.3ZM982.1 1757.3V1769.9L984.1 1772.1L986.1 1769.9V1757.3ZM1230.8 1757.3V1769.9L1232.8 1772.1L1234.8 1769.9V1757.3ZM360.2 2140.0V2163.8L362.2 2166.0L364.2 2163.8V2140.0ZM609.0 2140.0V2163.8L611.0 2166.0L613.0 2163.8V2140.0ZM857.7 2140.0V2163.8L859.7 2166.0L861.7 2163.8V2140.0ZM1106.5 2140.0V2163.8L1108.5 2166.0L1110.5 2163.8V2140.0ZM1355.2 2140.0V2163.8L1357.2 2166.0L1359.2 2163.8V2140.0ZM235.2 2140.0V2152.6L237.2 2154.8L239.2 2152.6V2140.0ZM484.6 2140.0V2152.6L486.6 2154.8L488.6 2152.6V2140.0ZM733.3 2140.0V2152.6L735.3 2154.8L737.3 2152.6V2140.0ZM982.1 2140.0V2152.6L984.1 2154.8L986.1 2152.6V2140.0ZM1230.8 2140.0V2152.6L1232.8 2154.8L1234.8 2152.6V2140.0ZM1480.0 2140.0V2152.6L1482.0 2154.8L1484.0 2152.6V2140.0ZM237.2 264.3H213.4L211.2 266.3L213.4 268.3H237.2ZM237.2 341.8H213.4L211.2 343.8L213.4 345.8H237.2ZM237.2 418.2H213.4L211.2 420.2L213.4 422.2H237.2ZM237.2 494.0H213.4L211.2 496.0L213.4 498.0H237.2ZM237.2 571.0H213.4L211.2 573.0L213.4 575.0H237.2ZM237.2 226.0H226.2L224.0 228.0L226.2 230.0H237.2ZM237.2 303.1H226.2L224.0 305.1L226.2 307.1H237.2ZM237.2 380.6H226.2L224.0 382.6L226.2 384.6H237.2ZM237.2 456.9H226.2L224.0 458.9L226.2 460.9H237.2ZM237.2 532.8H226.2L224.0 534.8L226.2 536.8H237.2ZM237.2 609.0H226.2L224.0 611.0L226.2 613.0H237.2ZM237.2 656.8H213.4L211.2 658.8L213.4 660.8H237.2ZM237.2 752.4H213.4L211.2 754.4L213.4 756.4H237.2ZM237.2 847.9H213.4L211.2 849.9L213.4 851.9H237.2ZM237.2 943.5H213.4L211.2 945.5L213.4 947.5H237.2ZM237.2 609.0H226.2L224.0 611.0L226.2 613.0H237.2ZM237.2 704.6H226.2L224.0 706.6L226.2 708.6H237.2ZM237.2 800.2H226.2L224.0 802.2L226.2 804.2H237.2ZM237.2 895.7H226.2L224.0 897.7L226.2 899.7H237.2ZM237.2 991.5H226.2L224.0 993.5L226.2 995.5H237.2ZM237.2 1039.3H213.4L211.2 1041.3L213.4 1043.3H237.2ZM237.2 1134.9H213.4L211.2 1136.9L213.4 1138.9H237.2ZM237.2 1230.5H213.4L211.2 1232.5L213.4 1234.5H237.2ZM237.2 1326.2H213.4L211.2 1328.2L213.4 1330.2H237.2ZM237.2 991.5H226.2L224.0 993.5L226.2 995.5H237.2ZM237.2 1087.1H226.2L224.0 1089.1L226.2 1091.1H237.2ZM237.2 1182.7H226.2L224.0 1184.7L226.2 1186.7H237.2ZM237.2 1278.3H226.2L224.0 1280.3L226.2 1282.3H237.2ZM237.2 1374.2H226.2L224.0 1376.2L226.2 1378.2H237.2ZM237.2 1396.9H213.4L211.2 1398.9L213.4 1400.9H237.2ZM237.2 1508.9H213.4L211.2 1510.9L213.4 1512.9H237.2ZM237.2 1620.9H213.4L211.2 1622.9L213.4 1624.9H237.2ZM237.2 1732.9H213.4L211.2 1734.9L213.4 1736.9H237.2ZM237.2 1452.9H226.2L224.0 1454.9L226.2 1456.9H237.2ZM237.2 1564.9H226.2L224.0 1566.9L226.2 1568.9H237.2ZM237.2 1676.9H226.2L224.0 1678.9L226.2 1680.9H237.2ZM237.2 1769.5H213.4L211.2 1771.5L213.4 1773.5H237.2ZM237.2 1875.9H213.4L211.2 1877.9L213.4 1879.9H237.2ZM237.2 1982.3H213.4L211.2 1984.3L213.4 1986.3H237.2ZM237.2 2088.7H213.4L211.2 2090.7L213.4 2092.7H237.2ZM237.2 1822.7H226.2L224.0 1824.7L226.2 1826.7H237.2ZM237.2 1929.1H226.2L224.0 1931.1L226.2 1933.1H237.2ZM237.2 2035.5H226.2L224.0 2037.5L226.2 2039.5H237.2Z"/>
<text class="yt" x="194.6" y="277.0">22.6</text>
<text class="yt" x="194.6" y="354.5">22.5</text>
<text class="yt" x="194.6" y="430.9">22.4</text>
<text class="yt" x="194.6" y="506.7">22.3</text>
<text class="yt" x="194.6" y="583.7">22.2</text>
<text class="yt" x="194.6" y="669.5">19.8</text>
<text class="yt" x="194.6" y="765.1">19.7</text>
<text class="yt" x="194.6" y="860.6">19.6</text>
<text class="yt" x="194.6" y="956.2">19.5</text>
<text class="yt" x="194.6" y="1052.0">17.8</text>
<text class="yt" x="194.6" y="1147.6">17.7</text>
<text class="yt" x="194.6" y="1243.2">17.6</text>
<text class="yt" x="194.6" y="1338.9">17.5</text>
<text class="yt" x="194.6" y="1409.6">14.5</text>
<text class="yt" x="194.6" y="1521.6">14.4</text>
<text class="yt" x="194.6" y="1633.6">14.3</text>
<text class="yt" x="194.6" y="1745.6">14.2</text>
<text class="yt" x="194.6" y="1782.2">10.80</text>
<text class="yt" x="194.6" y="1888.6">10.65</text>
<text class="yt" x="194.6" y="1995.0">10.50</text>
<text class="yt" x="194.6" y="2101.4">10.35</text>
<text class="xt" x="360.9" y="2219">0.00</text>
<text class="xt" x="609.7" y="2219">0.01</text>
<text class="xt" x="858.4" y="2219">0.02</text>
<text class="xt" x="1107.2" y="2219">0.03</text>
<text class="xt" x="1355.9" y="2219">0.04</text>
<text class="pl" x="266.1" y="286.2">a</text><text class="pp ser" x="299.1" y="286.2">)</text>
<text class="pl" x="266.1" y="674.0">b</text><text class="pp ser" x="299.2" y="674.0">)</text>
<text class="pl" x="263.5" y="1061.5">c</text><text class="pp ser" x="292.2" y="1061.5">)</text>
<text class="pl" x="257.5" y="1444.2">d</text><text class="pp ser" x="292.2" y="1444.2">)</text>
<text class="pl" x="259.2" y="1821.4">e</text><text class="pp ser" x="292.2" y="1821.4">)</text>
<text class="ttl" x="731" y="2281">Time/ s</text>
<text class="ttl" transform="translate(59.8 1291.4) rotate(-90)">Head/ m</text>
<rect x="859.5" y="39.5" width="618" height="165" fill="#fff" stroke="#000" stroke-width="1.2"/>
<circle cx="940.9" cy="101" r="5" fill="#f00"/>
<path d="M890.6 174.5H993" stroke="#000" stroke-width="7.4" stroke-linecap="round" fill="none"/>
<text class="ttl" x="1009" y="117.2">Calculated Value</text>
<text class="ttl" x="1008.5" y="189.5">Fitted Value</text>
</svg></body></html>
